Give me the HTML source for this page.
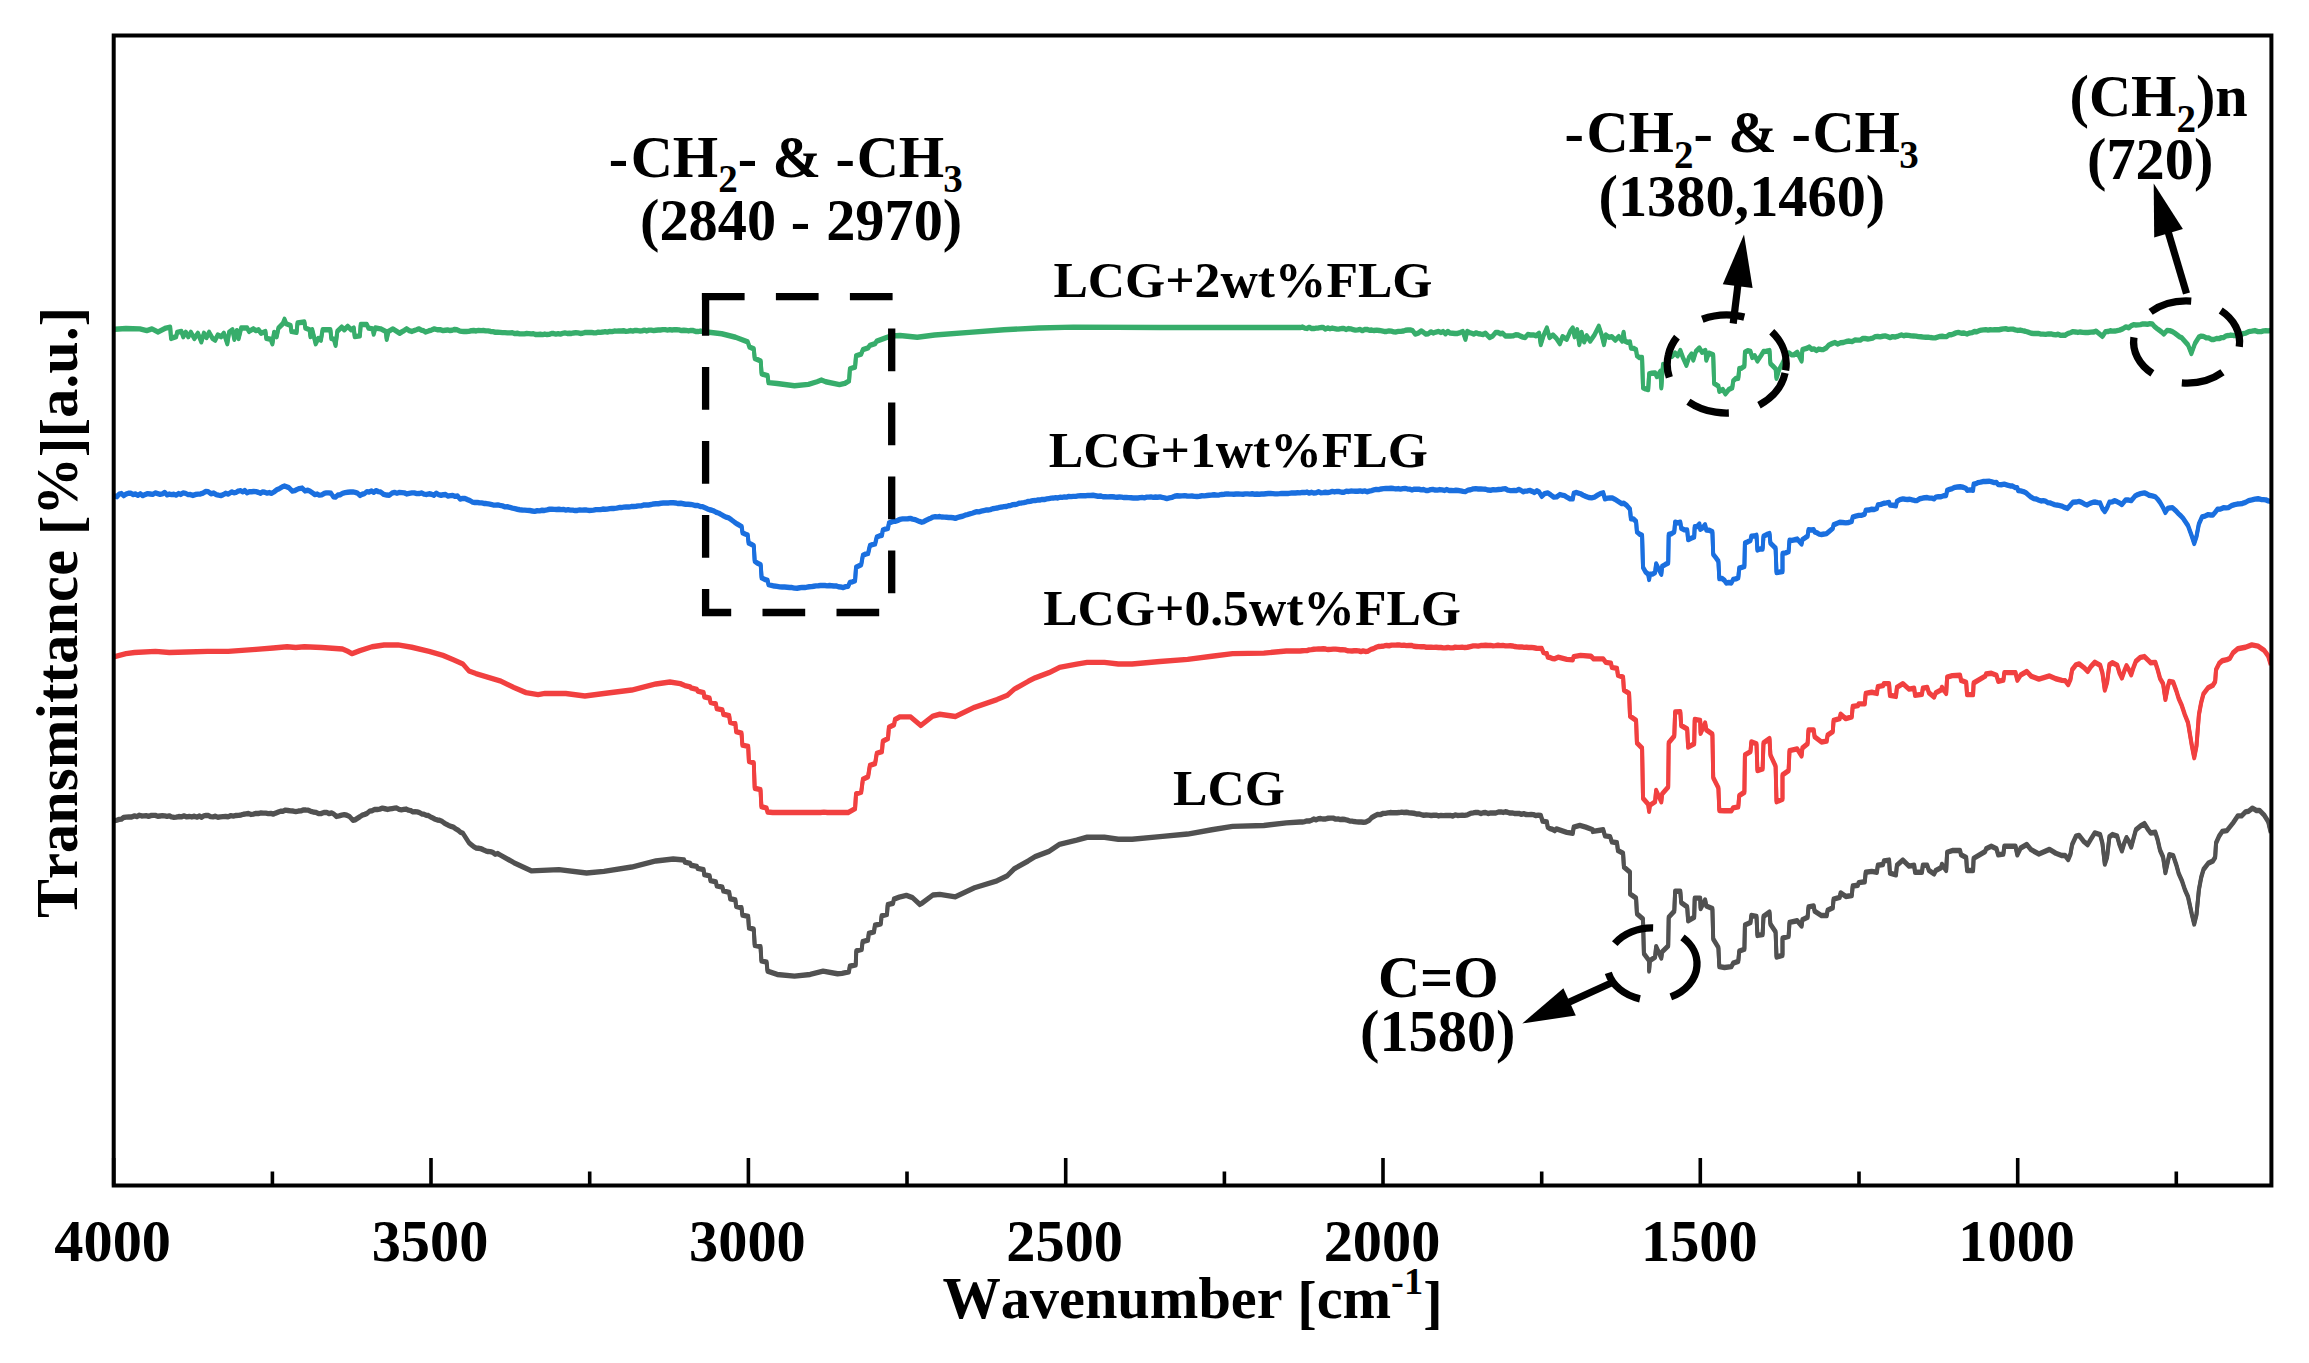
<!DOCTYPE html>
<html><head><meta charset="utf-8"><title>FTIR spectra</title>
<style>html,body{margin:0;padding:0;background:#fff}svg{display:block}</style></head>
<body>
<svg width="2309" height="1363" viewBox="0 0 2309 1363">
<rect width="2309" height="1363" fill="#fff"/>
<defs><clipPath id="pc"><rect x="113.7" y="35.5" width="2157.7" height="1150.0"/></clipPath></defs>
<g clip-path="url(#pc)" fill="none" stroke-width="3.9" stroke-linejoin="round" stroke-linecap="butt">
<path d="M114.7,819.8 L117.0,819.3 L119.2,818.7 L121.5,818.3 L123.7,816.7 L126.0,816.4 L128.9,816.2 L131.8,816.2 L134.6,815.2 L137.0,815.8 L139.3,814.5 L141.6,815.2 L143.9,815.1 L146.2,814.9 L148.5,815.6 L150.8,814.8 L153.1,814.6 L155.4,814.6 L157.7,815.5 L160.1,815.2 L162.4,814.9 L164.7,815.1 L167.0,815.6 L169.3,815.1 L171.6,816.2 L173.9,816.6 L176.2,816.4 L178.8,815.8 L181.4,816.1 L184.0,815.2 L186.6,816.1 L189.2,815.7 L191.8,816.2 L194.4,815.5 L197.0,816.4 L199.3,815.3 L201.5,816.5 L203.8,815.1 L206.0,814.7 L208.3,814.8 L210.7,815.9 L213.0,816.1 L215.4,815.5 L217.8,816.5 L220.4,816.1 L223.0,815.9 L225.6,815.8 L228.2,816.0 L230.8,814.9 L233.4,815.4 L236.0,814.7 L238.6,814.6 L241.1,814.2 L243.5,813.5 L246.0,813.1 L248.5,812.7 L251.0,813.7 L253.4,813.3 L255.9,812.6 L258.4,812.8 L260.9,812.2 L263.3,812.4 L265.8,812.4 L268.3,812.9 L270.8,812.6 L273.2,813.4 L275.7,812.3 L278.1,811.4 L280.5,810.5 L282.9,810.5 L285.4,809.4 L288.0,809.7 L290.6,810.1 L293.2,810.3 L295.8,810.8 L298.4,810.3 L301.0,810.1 L303.6,809.1 L305.9,809.3 L308.3,809.4 L310.7,810.6 L313.1,811.2 L315.7,811.6 L318.3,812.8 L320.9,812.9 L323.9,811.7 L326.9,811.7 L329.2,812.9 L331.6,812.1 L333.9,813.4 L336.5,815.7 L339.1,815.2 L341.7,814.4 L344.3,813.9 L346.9,814.5 L349.5,815.7 L352.9,819.5 L355.2,819.0 L357.5,817.5 L359.9,816.0 L362.3,814.3 L364.7,813.6 L367.1,812.6 L369.6,810.4 L372.0,810.0 L374.6,808.7 L377.2,808.8 L379.8,808.4 L382.4,807.4 L385.0,808.0 L387.6,808.7 L389.9,808.2 L392.2,807.8 L394.5,807.4 L396.8,807.3 L399.1,808.7 L401.4,809.1 L403.7,808.7 L406.0,808.3 L408.4,809.4 L410.6,809.8 L412.8,811.1 L415.0,810.9 L417.3,811.1 L419.5,811.8 L421.7,813.2 L423.9,813.4 L426.2,814.5 L428.4,814.8 L430.6,816.2 L432.9,817.3 L435.1,818.5 L437.3,819.2 L439.5,819.5 L441.9,820.5 L444.2,822.3 L446.5,823.6 L448.8,824.7 L451.1,825.7 L453.4,826.4 L455.8,828.1 L458.2,829.5 L460.5,831.5 L462.9,832.5 L469.0,842.0 L471.3,843.9 L473.6,845.8 L475.9,847.2 L478.3,847.5 L480.7,847.9 L483.1,848.9 L485.6,850.1 L488.0,850.8 L490.4,850.9 L492.8,851.6 L495.2,853.5 L497.6,852.8 L500.0,854.1 L513.9,861.9 L531.2,870.1 L558.9,868.9 L586.6,872.3 L603.9,870.6 L631.7,866.3 L655.9,860.2 L673.2,858.3 L684.0,859.2 L684.8,861.4 L690.2,862.6 L690.9,864.5 L696.8,865.7 L697.7,867.6 L703.6,868.9 L704.2,873.9 L709.6,875.1 L710.5,879.9 L715.9,881.2 L716.7,885.1 L722.4,886.4 L723.3,890.2 L729.2,891.6 L730.1,898.0 L735.4,899.2 L736.1,905.6 L741.5,907.0 L742.4,914.4 L748.2,915.6 L748.9,927.2 L753.8,928.5 L754.7,944.7 L760.5,945.9 L761.4,960.2 L766.6,961.4 L767.5,970.4 L777.2,973.7 L794.5,975.4 L810.1,973.7 L823.1,970.4 L837.5,973.0 L842.0,972.6 L848.9,971.2 L849.8,965.5 L855.7,964.1 L856.3,950.1 L861.7,948.7 L862.6,940.9 L868.0,939.4 L868.8,932.6 L874.0,931.2 L874.9,924.5 L880.8,923.1 L881.6,915.1 L887.0,913.7 L887.7,903.9 L893.1,902.5 L893.9,898.3 L899.3,896.4 L906.4,894.7 L912.5,896.9 L919.9,903.7 L921.7,902.6 L932.9,894.3 L939.8,893.6 L955.4,896.1 L974.5,887.0 L997.0,880.1 L1007.4,874.9 L1014.3,868.0 L1028.2,860.2 L1035.1,855.9 L1049.0,850.7 L1059.4,843.7 L1076.7,839.4 L1087.1,836.5 L1104.4,836.5 L1118.3,838.5 L1132.1,838.5 L1159.9,835.9 L1187.6,833.3 L1211.8,829.0 L1232.6,825.6 L1263.8,824.7 L1286.3,822.1 L1300.0,821.2 L1302.3,821.3 L1304.6,820.8 L1306.9,820.2 L1309.2,820.3 L1311.5,819.5 L1313.9,818.3 L1316.2,819.1 L1318.5,818.0 L1320.8,817.8 L1323.3,818.3 L1325.7,818.2 L1328.2,817.5 L1330.7,817.4 L1333.2,817.4 L1335.6,818.4 L1338.1,818.1 L1340.4,818.8 L1342.7,818.5 L1345.0,818.8 L1347.4,819.4 L1349.7,820.3 L1352.0,820.4 L1354.3,820.8 L1356.6,821.1 L1358.9,821.3 L1361.2,821.2 L1363.5,821.5 L1365.8,821.2 L1369.3,819.5 L1371.9,816.7 L1374.5,815.2 L1377.4,813.7 L1380.3,813.9 L1383.2,812.6 L1385.5,812.6 L1387.8,812.2 L1390.1,811.8 L1392.4,812.0 L1394.7,811.9 L1397.0,812.0 L1399.3,811.8 L1401.6,811.4 L1403.9,811.7 L1406.4,811.5 L1408.9,812.0 L1411.4,812.2 L1413.8,812.5 L1416.3,813.2 L1418.8,813.2 L1421.3,813.9 L1423.7,814.5 L1426.2,814.3 L1428.7,814.4 L1431.2,814.8 L1433.6,814.5 L1436.1,814.4 L1438.6,815.2 L1441.0,814.6 L1443.3,814.9 L1445.7,814.8 L1448.0,814.7 L1450.4,814.7 L1452.8,815.3 L1455.1,814.2 L1457.5,814.7 L1459.8,814.6 L1462.2,814.4 L1464.6,814.6 L1467.5,814.1 L1470.3,812.7 L1473.2,812.2 L1475.7,811.7 L1478.2,811.8 L1480.7,812.8 L1483.1,812.0 L1485.6,811.8 L1488.1,812.8 L1490.6,812.2 L1493.2,812.1 L1495.8,812.2 L1498.4,811.2 L1501.0,811.2 L1503.2,811.7 L1505.4,811.0 L1507.6,811.5 L1509.9,812.3 L1512.1,812.2 L1514.3,812.7 L1516.5,812.6 L1519.0,812.7 L1521.4,813.6 L1523.8,812.9 L1526.2,813.8 L1528.7,813.9 L1531.1,813.7 L1533.5,813.9 L1535.9,814.8 L1538.4,814.4 L1540.8,814.6 L1542.5,820.4 L1546.9,821.2 L1547.7,826.4 L1550.0,827.9 L1552.3,828.5 L1554.7,829.9 L1556.4,828.1 L1566.8,831.6 L1572.8,832.5 L1573.7,826.4 L1579.8,824.7 L1585.8,826.4 L1592.8,829.0 L1592.8,830.7 L1603.2,829.0 L1604.9,835.1 L1610.1,835.9 L1611.8,841.1 L1617.0,842.0 L1617.9,849.8 L1623.1,852.4 L1623.9,866.3 L1630.0,871.5 L1630.0,893.1 L1636.1,897.4 L1636.9,913.0 L1643.0,918.2 L1643.9,952.9 L1649.1,959.8 L1649.1,970.2 L1649.9,959.8 L1655.1,956.3 L1656.1,945.9 L1661.3,957.2 L1662.1,951.1 L1668.2,945.1 L1668.7,916.5 L1674.3,910.4 L1675.1,890.5 L1680.3,890.5 L1681.2,901.8 L1687.2,906.1 L1688.1,920.0 L1694.2,916.5 L1694.7,897.4 L1700.2,897.4 L1700.6,907.8 L1705.1,899.2 L1706.3,905.2 L1712.4,907.8 L1713.2,938.2 L1718.4,946.8 L1719.3,965.9 L1724.5,966.7 L1731.4,965.9 L1733.2,962.4 L1738.3,960.7 L1739.2,950.3 L1744.4,948.5 L1744.9,924.3 L1750.5,921.7 L1751.3,914.8 L1756.5,915.6 L1757.4,934.7 L1762.6,933.8 L1763.5,915.6 L1769.5,911.3 L1770.4,923.4 L1775.6,931.2 L1776.5,956.3 L1782.5,954.6 L1782.5,937.3 L1788.6,935.6 L1789.5,921.7 L1797.2,920.0 L1801.6,925.2 L1802.4,919.1 L1807.6,916.5 L1808.5,906.1 L1813.7,905.2 L1814.6,910.4 L1821.5,914.8 L1826.7,914.8 L1827.6,909.6 L1832.8,907.0 L1833.6,898.3 L1839.7,896.6 L1840.6,892.2 L1845.8,895.7 L1851.8,894.8 L1852.7,885.3 L1857.9,884.5 L1858.7,881.9 L1864.8,881.0 L1865.7,871.5 L1871.7,870.6 L1876.9,871.5 L1877.8,864.5 L1883.0,863.7 L1883.9,860.2 L1889.1,859.3 L1889.9,872.3 L1896.0,874.1 L1896.9,864.5 L1902.9,859.3 L1909.0,865.4 L1914.2,864.5 L1915.0,871.5 L1922.0,871.5 L1922.8,864.5 L1927.2,864.5 L1928.9,869.7 L1934.1,873.2 L1935.8,869.7 L1941.0,867.1 L1941.9,863.7 L1946.2,869.7 L1947.1,851.5 L1952.3,849.8 L1960.1,849.8 L1961.0,854.1 L1966.2,856.7 L1967.0,869.7 L1973.1,869.7 L1973.6,857.6 L1985.2,850.7 L1986.1,848.1 L1991.3,845.5 L1996.5,848.1 L1998.2,854.1 L2003.4,853.3 L2004.3,845.5 L2015.5,845.5 L2017.3,854.1 L2020.7,847.2 L2026.8,843.7 L2031.1,848.9 L2038.9,853.3 L2049.5,848.6 L2055.8,852.5 L2062.0,854.8 L2065.1,854.8 L2068.2,858.7 L2070.5,853.2 L2072.1,843.9 L2076.0,835.4 L2079.1,834.6 L2083.8,840.8 L2087.7,843.9 L2090.8,838.5 L2094.7,832.2 L2100.1,833.8 L2102.4,842.4 L2104.8,863.4 L2107.1,856.4 L2109.4,836.1 L2112.5,833.8 L2117.2,835.4 L2119.5,843.9 L2121.9,850.1 L2124.2,842.4 L2126.5,836.9 L2128.9,840.8 L2131.2,846.2 L2133.5,837.7 L2135.9,829.1 L2140.5,825.2 L2144.4,822.9 L2148.3,829.1 L2150.7,832.2 L2155.3,831.5 L2157.7,839.2 L2160.0,849.4 L2163.1,856.4 L2165.4,871.9 L2167.8,861.0 L2169.3,854.0 L2173.2,854.8 L2176.3,864.1 L2178.7,872.7 L2181.8,879.7 L2184.9,889.0 L2188.0,896.0 L2191.9,913.9 L2194.2,923.2 L2196.5,913.9 L2198.9,889.0 L2201.2,876.6 L2203.5,868.8 L2208.2,862.6 L2212.9,860.2 L2215.2,856.4 L2216.0,842.4 L2219.1,835.4 L2222.2,830.7 L2226.9,829.9 L2233.1,822.1 L2237.8,815.1 L2241.6,815.1 L2245.5,811.2 L2248.6,810.5 L2252.5,807.4 L2256.4,809.7 L2259.5,809.7 L2264.2,814.4 L2268.1,820.6 L2270.7,831.5" stroke="#515151"/>
<path d="M114.7,821.3 L117.0,820.8 L119.2,820.2 L121.5,819.8 L123.7,818.2 L126.0,817.9 L128.9,817.7 L131.8,817.7 L134.6,816.7 L137.0,817.3 L139.3,816.0 L141.6,816.7 L143.9,816.6 L146.2,816.4 L148.5,817.1 L150.8,816.3 L153.1,816.1 L155.4,816.1 L157.7,817.0 L160.1,816.7 L162.4,816.4 L164.7,816.6 L167.0,817.1 L169.3,816.6 L171.6,817.7 L173.9,818.1 L176.2,817.9 L178.8,817.3 L181.4,817.6 L184.0,816.7 L186.6,817.6 L189.2,817.2 L191.8,817.7 L194.4,817.0 L197.0,817.9 L199.3,816.8 L201.5,818.0 L203.8,816.6 L206.0,816.2 L208.3,816.3 L210.7,817.4 L213.0,817.6 L215.4,817.0 L217.8,818.0 L220.4,817.6 L223.0,817.4 L225.6,817.3 L228.2,817.5 L230.8,816.4 L233.4,816.9 L236.0,816.2 L238.6,816.1 L241.1,815.7 L243.5,815.0 L246.0,814.6 L248.5,814.2 L251.0,815.2 L253.4,814.8 L255.9,814.1 L258.4,814.3 L260.9,813.7 L263.3,813.9 L265.8,813.9 L268.3,814.4 L270.8,814.1 L273.2,814.9 L275.7,813.8 L278.1,812.9 L280.5,812.0 L282.9,812.0 L285.4,810.9 L288.0,811.2 L290.6,811.6 L293.2,811.8 L295.8,812.3 L298.4,811.8 L301.0,811.6 L303.6,810.6 L305.9,810.8 L308.3,810.9 L310.7,812.1 L313.1,812.7 L315.7,813.1 L318.3,814.3 L320.9,814.4 L323.9,813.2 L326.9,813.2 L329.2,814.4 L331.6,813.6 L333.9,814.9 L336.5,817.2 L339.1,816.7 L341.7,815.9 L344.3,815.4 L346.9,816.0 L349.5,817.2 L352.9,821.0 L355.2,820.5 L357.5,819.0 L359.9,817.5 L362.3,815.8 L364.7,815.1 L367.1,814.1 L369.6,811.9 L372.0,811.5 L374.6,810.2 L377.2,810.3 L379.8,809.9 L382.4,808.9 L385.0,809.5 L387.6,810.2 L389.9,809.7 L392.2,809.3 L394.5,808.9 L396.8,808.8 L399.1,810.2 L401.4,810.6 L403.7,810.2 L406.0,809.8 L408.4,810.9 L410.6,811.3 L412.8,812.6 L415.0,812.4 L417.3,812.6 L419.5,813.3 L421.7,814.7 L423.9,814.9 L426.2,816.0 L428.4,816.3 L430.6,817.7 L432.9,818.8 L435.1,820.0 L437.3,820.7 L439.5,821.0 L441.9,822.0 L444.2,823.8 L446.5,825.1 L448.8,826.2 L451.1,827.2 L453.4,827.9 L455.8,829.6 L458.2,831.0 L460.5,833.0 L462.9,834.0 L469.0,843.5 L471.3,845.4 L473.6,847.3 L475.9,848.7 L478.3,849.0 L480.7,849.4 L483.1,850.4 L485.6,851.6 L488.0,852.3 L490.4,852.4 L492.8,853.1 L495.2,855.0 L497.6,854.3 L500.0,855.6 L513.9,863.4 L531.2,871.6 L558.9,870.4 L586.6,873.8 L603.9,872.1 L631.7,867.8 L655.9,861.7 L673.2,859.8 L684.0,860.7 L684.8,862.9 L690.2,864.1 L690.9,866.0 L696.8,867.2 L697.7,869.1 L703.6,870.4 L704.2,875.4 L709.6,876.6 L710.5,881.4 L715.9,882.7 L716.7,886.6 L722.4,887.9 L723.3,891.7 L729.2,893.1 L730.1,899.5 L735.4,900.7 L736.1,907.1 L741.5,908.5 L742.4,915.9 L748.2,917.1 L748.9,928.7 L753.8,930.0 L754.7,946.2 L760.5,947.4 L761.4,961.7 L766.6,962.9 L767.5,971.9 L777.2,975.2 L794.5,976.9 L810.1,975.2 L823.1,971.9 L837.5,974.5 L842.0,974.1 L848.9,972.7 L849.8,967.0 L855.7,965.6 L856.3,951.6 L861.7,950.2 L862.6,942.4 L868.0,940.9 L868.8,934.1 L874.0,932.7 L874.9,926.0 L880.8,924.6 L881.6,916.6 L887.0,915.2 L887.7,905.4 L893.1,904.0 L893.9,899.8 L899.3,897.9 L906.4,896.2 L912.5,898.4 L919.9,905.2 L921.7,904.1 L932.9,895.8 L939.8,895.1 L955.4,897.6 L974.5,888.5 L997.0,881.6 L1007.4,876.4 L1014.3,869.5 L1028.2,861.7 L1035.1,857.4 L1049.0,852.2 L1059.4,845.2 L1076.7,840.9 L1087.1,838.0 L1104.4,838.0 L1118.3,840.0 L1132.1,840.0 L1159.9,837.4 L1187.6,834.8 L1211.8,830.5 L1232.6,827.1 L1263.8,826.2 L1286.3,823.6 L1300.0,822.7 L1302.3,822.8 L1304.6,822.3 L1306.9,821.7 L1309.2,821.8 L1311.5,821.0 L1313.9,819.8 L1316.2,820.6 L1318.5,819.5 L1320.8,819.3 L1323.3,819.8 L1325.7,819.7 L1328.2,819.0 L1330.7,818.9 L1333.2,818.9 L1335.6,819.9 L1338.1,819.6 L1340.4,820.3 L1342.7,820.0 L1345.0,820.3 L1347.4,820.9 L1349.7,821.8 L1352.0,821.9 L1354.3,822.3 L1356.6,822.6 L1358.9,822.8 L1361.2,822.7 L1363.5,823.0 L1365.8,822.7 L1369.3,821.0 L1371.9,818.2 L1374.5,816.7 L1377.4,815.2 L1380.3,815.4 L1383.2,814.1 L1385.5,814.1 L1387.8,813.7 L1390.1,813.3 L1392.4,813.5 L1394.7,813.4 L1397.0,813.5 L1399.3,813.3 L1401.6,812.9 L1403.9,813.2 L1406.4,813.0 L1408.9,813.5 L1411.4,813.7 L1413.8,814.0 L1416.3,814.7 L1418.8,814.7 L1421.3,815.4 L1423.7,816.0 L1426.2,815.8 L1428.7,815.9 L1431.2,816.3 L1433.6,816.0 L1436.1,815.9 L1438.6,816.7 L1441.0,816.1 L1443.3,816.4 L1445.7,816.3 L1448.0,816.2 L1450.4,816.2 L1452.8,816.8 L1455.1,815.7 L1457.5,816.2 L1459.8,816.1 L1462.2,815.9 L1464.6,816.1 L1467.5,815.6 L1470.3,814.2 L1473.2,813.7 L1475.7,813.2 L1478.2,813.3 L1480.7,814.3 L1483.1,813.5 L1485.6,813.3 L1488.1,814.3 L1490.6,813.7 L1493.2,813.6 L1495.8,813.7 L1498.4,812.7 L1501.0,812.7 L1503.2,813.2 L1505.4,812.5 L1507.6,813.0 L1509.9,813.8 L1512.1,813.7 L1514.3,814.2 L1516.5,814.1 L1519.0,814.2 L1521.4,815.1 L1523.8,814.4 L1526.2,815.3 L1528.7,815.4 L1531.1,815.2 L1533.5,815.4 L1535.9,816.3 L1538.4,815.9 L1540.8,816.1 L1542.5,821.9 L1546.9,822.7 L1547.7,827.9 L1550.0,829.4 L1552.3,830.0 L1554.7,831.4 L1556.4,829.6 L1566.8,833.1 L1572.8,834.0 L1573.7,827.9 L1579.8,826.2 L1585.8,827.9 L1592.8,830.5 L1592.8,832.2 L1603.2,830.5 L1604.9,836.6 L1610.1,837.4 L1611.8,842.6 L1617.0,843.5 L1617.9,851.3 L1623.1,853.9 L1623.9,867.8 L1630.0,873.0 L1630.0,894.6 L1636.1,898.9 L1636.9,914.5 L1643.0,919.7 L1643.9,954.4 L1649.1,961.3 L1649.1,971.7 L1649.9,961.3 L1655.1,957.8 L1656.1,947.4 L1661.3,958.7 L1662.1,952.6 L1668.2,946.6 L1668.7,918.0 L1674.3,911.9 L1675.1,892.0 L1680.3,892.0 L1681.2,903.3 L1687.2,907.6 L1688.1,921.5 L1694.2,918.0 L1694.7,898.9 L1700.2,898.9 L1700.6,909.3 L1705.1,900.7 L1706.3,906.7 L1712.4,909.3 L1713.2,939.7 L1718.4,948.3 L1719.3,967.4 L1724.5,968.2 L1731.4,967.4 L1733.2,963.9 L1738.3,962.2 L1739.2,951.8 L1744.4,950.0 L1744.9,925.8 L1750.5,923.2 L1751.3,916.3 L1756.5,917.1 L1757.4,936.2 L1762.6,935.3 L1763.5,917.1 L1769.5,912.8 L1770.4,924.9 L1775.6,932.7 L1776.5,957.8 L1782.5,956.1 L1782.5,938.8 L1788.6,937.1 L1789.5,923.2 L1797.2,921.5 L1801.6,926.7 L1802.4,920.6 L1807.6,918.0 L1808.5,907.6 L1813.7,906.7 L1814.6,911.9 L1821.5,916.3 L1826.7,916.3 L1827.6,911.1 L1832.8,908.5 L1833.6,899.8 L1839.7,898.1 L1840.6,893.7 L1845.8,897.2 L1851.8,896.3 L1852.7,886.8 L1857.9,886.0 L1858.7,883.4 L1864.8,882.5 L1865.7,873.0 L1871.7,872.1 L1876.9,873.0 L1877.8,866.0 L1883.0,865.2 L1883.9,861.7 L1889.1,860.8 L1889.9,873.8 L1896.0,875.6 L1896.9,866.0 L1902.9,860.8 L1909.0,866.9 L1914.2,866.0 L1915.0,873.0 L1922.0,873.0 L1922.8,866.0 L1927.2,866.0 L1928.9,871.2 L1934.1,874.7 L1935.8,871.2 L1941.0,868.6 L1941.9,865.2 L1946.2,871.2 L1947.1,853.0 L1952.3,851.3 L1960.1,851.3 L1961.0,855.6 L1966.2,858.2 L1967.0,871.2 L1973.1,871.2 L1973.6,859.1 L1985.2,852.2 L1986.1,849.6 L1991.3,847.0 L1996.5,849.6 L1998.2,855.6 L2003.4,854.8 L2004.3,847.0 L2015.5,847.0 L2017.3,855.6 L2020.7,848.7 L2026.8,845.2 L2031.1,850.4 L2038.9,854.8 L2049.5,850.1 L2055.8,854.0 L2062.0,856.3 L2065.1,856.3 L2068.2,860.2 L2070.5,854.7 L2072.1,845.4 L2076.0,836.9 L2079.1,836.1 L2083.8,842.3 L2087.7,845.4 L2090.8,840.0 L2094.7,833.7 L2100.1,835.3 L2102.4,843.9 L2104.8,864.9 L2107.1,857.9 L2109.4,837.6 L2112.5,835.3 L2117.2,836.9 L2119.5,845.4 L2121.9,851.6 L2124.2,843.9 L2126.5,838.4 L2128.9,842.3 L2131.2,847.7 L2133.5,839.2 L2135.9,830.6 L2140.5,826.7 L2144.4,824.4 L2148.3,830.6 L2150.7,833.7 L2155.3,833.0 L2157.7,840.7 L2160.0,850.9 L2163.1,857.9 L2165.4,873.4 L2167.8,862.5 L2169.3,855.5 L2173.2,856.3 L2176.3,865.6 L2178.7,874.2 L2181.8,881.2 L2184.9,890.5 L2188.0,897.5 L2191.9,915.4 L2194.2,924.7 L2196.5,915.4 L2198.9,890.5 L2201.2,878.1 L2203.5,870.3 L2208.2,864.1 L2212.9,861.7 L2215.2,857.9 L2216.0,843.9 L2219.1,836.9 L2222.2,832.2 L2226.9,831.4 L2233.1,823.6 L2237.8,816.6 L2241.6,816.6 L2245.5,812.7 L2248.6,812.0 L2252.5,808.9 L2256.4,811.2 L2259.5,811.2 L2264.2,815.9 L2268.1,822.1 L2270.7,833.0" stroke="#515151"/>
<path d="M114.7,655.8 L126.0,652.9 L134.6,651.7 L155.4,650.6 L169.3,651.7 L186.6,651.2 L207.4,650.6 L228.2,650.6 L255.9,648.6 L273.2,647.2 L287.1,646.0 L295.8,646.8 L304.4,646.0 L321.7,646.8 L342.5,648.2 L347.7,650.6 L352.1,652.9 L359.9,649.9 L372.0,646.0 L384.1,644.2 L398.0,644.2 L411.8,646.5 L429.1,650.6 L443.0,654.6 L453.4,659.0 L462.9,663.3 L469.0,670.2 L475.9,672.8 L500.0,680.1 L513.9,686.7 L526.0,691.9 L538.1,693.9 L545.0,692.7 L565.8,692.7 L584.9,695.3 L603.9,692.7 L631.7,689.3 L655.9,683.2 L669.9,681.3 L680.3,682.9 L684.8,684.8 L690.2,686.2 L690.9,687.2 L696.8,688.7 L697.7,690.3 L703.6,691.9 L704.2,696.0 L709.6,697.4 L710.5,701.6 L715.9,703.1 L716.7,707.8 L722.4,709.2 L723.3,713.5 L729.2,714.9 L730.1,721.7 L735.4,723.0 L736.1,730.8 L741.5,732.4 L742.4,744.4 L748.2,745.7 L748.9,760.6 L753.8,762.2 L754.7,787.5 L760.5,788.9 L761.4,805.9 L766.6,807.4 L767.5,811.2 L772.7,811.7 L820.5,811.7 L823.9,811.4 L827.4,811.7 L848.2,811.7 L855.1,807.9 L856.0,793.2 L861.2,791.5 L862.9,778.5 L868.1,775.9 L869.9,764.6 L875.1,762.9 L876.8,752.5 L882.0,750.8 L882.8,740.4 L888.0,737.8 L888.9,726.5 L894.1,723.9 L895.0,718.7 L900.0,716.1 L910.4,716.1 L920.8,724.8 L932.9,715.3 L939.8,713.5 L955.4,715.8 L974.5,706.6 L997.0,698.8 L1007.4,694.5 L1014.3,688.4 L1028.2,680.6 L1035.1,677.1 L1049.0,671.9 L1059.4,666.7 L1076.7,663.3 L1087.1,661.6 L1104.4,661.6 L1118.3,663.3 L1132.1,663.3 L1159.9,660.7 L1187.6,658.6 L1211.8,655.5 L1232.6,652.9 L1263.8,652.4 L1286.3,650.3 L1300.0,650.3 L1302.3,650.0 L1304.6,649.9 L1306.9,649.9 L1309.2,649.1 L1311.5,648.9 L1313.9,648.5 L1316.2,648.4 L1318.5,648.1 L1320.8,648.2 L1323.3,648.0 L1325.7,648.3 L1328.2,648.8 L1330.7,648.6 L1333.2,648.4 L1335.6,648.4 L1338.1,648.6 L1340.4,649.0 L1342.7,649.0 L1345.0,649.1 L1347.4,650.0 L1349.7,650.1 L1352.0,650.3 L1354.2,650.0 L1356.4,650.0 L1358.7,650.1 L1360.9,650.9 L1363.1,650.2 L1365.3,650.7 L1367.6,650.6 L1371.0,648.6 L1373.6,647.9 L1376.2,646.5 L1378.8,645.7 L1381.4,645.5 L1384.0,645.2 L1386.6,644.7 L1389.1,645.0 L1391.6,644.4 L1394.0,644.4 L1396.5,644.3 L1399.0,644.1 L1401.5,644.6 L1403.9,644.4 L1406.4,644.9 L1408.9,644.8 L1411.4,644.7 L1413.8,645.5 L1416.3,645.7 L1418.8,645.9 L1421.3,646.0 L1423.7,645.9 L1426.2,646.5 L1428.7,646.4 L1431.2,646.5 L1433.6,646.6 L1436.1,646.5 L1438.6,646.8 L1441.0,646.8 L1443.3,647.1 L1445.7,647.0 L1448.0,646.7 L1450.4,647.1 L1452.8,647.1 L1455.1,646.5 L1457.5,646.6 L1459.8,646.6 L1462.2,646.4 L1464.6,646.8 L1467.5,646.5 L1470.3,645.8 L1473.2,645.1 L1475.7,645.1 L1478.2,645.4 L1480.7,644.8 L1483.1,644.7 L1485.6,644.5 L1488.1,644.7 L1490.6,644.7 L1493.0,645.1 L1495.5,644.9 L1498.0,644.5 L1500.5,644.9 L1502.9,644.6 L1505.4,645.1 L1507.9,645.1 L1510.2,645.0 L1512.5,645.2 L1514.8,645.8 L1517.1,646.1 L1519.4,646.2 L1521.7,646.1 L1524.1,646.6 L1526.4,646.5 L1528.7,646.8 L1531.3,646.6 L1533.9,647.0 L1536.5,647.5 L1539.1,647.6 L1541.7,647.7 L1543.4,651.7 L1546.9,652.9 L1547.7,656.4 L1550.0,656.7 L1552.3,657.8 L1554.7,658.1 L1558.1,656.4 L1566.8,658.6 L1572.8,659.0 L1573.7,655.8 L1580.6,654.6 L1591.0,655.5 L1593.6,658.1 L1603.2,658.1 L1605.8,661.6 L1611.0,662.4 L1611.8,666.7 L1617.0,667.6 L1617.9,674.5 L1623.1,676.3 L1623.9,689.3 L1629.1,692.7 L1630.0,715.3 L1636.1,719.6 L1636.9,742.1 L1642.1,747.3 L1643.0,797.5 L1648.2,803.6 L1649.1,810.5 L1649.9,804.5 L1655.1,801.0 L1656.1,789.7 L1661.3,801.0 L1662.1,793.2 L1668.2,786.3 L1668.7,742.1 L1674.3,735.2 L1675.1,711.3 L1680.3,710.9 L1681.2,724.8 L1687.2,728.2 L1688.1,746.4 L1694.2,743.0 L1694.7,718.7 L1700.2,719.6 L1700.6,732.6 L1705.1,722.2 L1706.3,729.1 L1712.4,733.4 L1713.2,776.8 L1718.4,787.1 L1719.3,809.7 L1724.5,810.0 L1731.4,810.0 L1733.2,807.1 L1738.3,806.2 L1739.2,794.9 L1744.4,791.5 L1744.9,754.2 L1750.5,750.8 L1751.3,741.2 L1756.5,743.0 L1757.4,769.8 L1762.6,768.1 L1763.5,742.1 L1769.5,737.8 L1770.4,754.2 L1775.6,765.5 L1776.5,801.0 L1782.5,798.4 L1782.5,774.2 L1788.6,769.8 L1789.5,749.9 L1797.2,748.2 L1801.6,755.1 L1802.4,747.3 L1807.6,743.0 L1808.5,729.1 L1813.7,729.1 L1814.6,736.0 L1821.5,741.2 L1826.7,740.4 L1827.6,734.3 L1832.8,730.8 L1833.6,719.6 L1839.7,717.9 L1840.6,713.5 L1845.8,717.9 L1851.8,716.1 L1852.7,705.7 L1857.9,704.9 L1858.7,703.1 L1864.8,703.1 L1865.7,692.7 L1871.7,691.5 L1876.9,692.7 L1877.8,685.8 L1883.0,684.9 L1883.9,682.9 L1889.1,682.9 L1889.9,694.5 L1896.0,695.7 L1896.9,686.7 L1902.9,682.9 L1909.0,688.4 L1914.2,687.5 L1915.0,694.5 L1922.0,693.6 L1922.8,687.5 L1927.2,686.7 L1928.9,691.9 L1934.1,696.2 L1935.8,691.9 L1941.0,689.3 L1941.9,686.7 L1946.2,692.7 L1947.1,676.3 L1952.3,674.9 L1960.1,674.5 L1961.0,679.7 L1966.2,681.5 L1967.0,693.9 L1973.1,693.9 L1973.6,682.3 L1985.2,675.4 L1986.1,673.2 L1991.3,672.5 L1996.5,674.5 L1998.2,680.6 L2003.4,679.4 L2004.3,671.9 L2015.5,671.9 L2017.3,679.4 L2020.7,674.2 L2026.8,670.7 L2031.1,675.4 L2038.9,678.4 L2049.5,675.2 L2055.8,678.0 L2062.0,679.6 L2065.1,679.9 L2068.2,683.8 L2070.5,678.4 L2072.1,669.0 L2076.0,664.0 L2079.1,663.1 L2083.8,666.7 L2087.7,670.6 L2090.8,665.9 L2094.7,661.6 L2100.1,664.4 L2102.4,672.1 L2104.8,689.2 L2107.1,681.5 L2109.4,664.0 L2112.5,662.0 L2117.2,664.4 L2119.5,672.1 L2121.9,677.1 L2124.2,670.6 L2126.5,665.1 L2128.9,669.0 L2131.2,674.0 L2133.5,666.7 L2135.9,660.5 L2140.5,656.6 L2144.4,655.8 L2148.3,659.7 L2150.7,662.0 L2155.3,661.6 L2157.7,669.0 L2160.0,677.6 L2163.1,683.0 L2165.4,698.6 L2167.8,686.1 L2169.3,680.7 L2173.2,681.5 L2176.3,690.0 L2178.7,697.8 L2181.8,704.8 L2184.9,714.1 L2188.0,721.9 L2191.9,745.2 L2194.2,756.9 L2196.5,745.2 L2198.9,714.1 L2201.2,701.7 L2203.5,693.1 L2208.2,686.9 L2212.9,684.6 L2215.2,680.7 L2216.0,669.0 L2219.1,662.8 L2222.2,660.0 L2226.9,658.9 L2230.0,657.4 L2233.1,651.9 L2237.8,648.0 L2245.5,646.5 L2251.8,644.1 L2258.0,645.4 L2264.2,649.6 L2268.1,655.0 L2270.7,663.6" stroke="#F14040"/>
<path d="M114.7,657.3 L126.0,654.4 L134.6,653.2 L155.4,652.1 L169.3,653.2 L186.6,652.7 L207.4,652.1 L228.2,652.1 L255.9,650.1 L273.2,648.7 L287.1,647.5 L295.8,648.3 L304.4,647.5 L321.7,648.3 L342.5,649.7 L347.7,652.1 L352.1,654.4 L359.9,651.4 L372.0,647.5 L384.1,645.7 L398.0,645.7 L411.8,648.0 L429.1,652.1 L443.0,656.1 L453.4,660.5 L462.9,664.8 L469.0,671.7 L475.9,674.3 L500.0,681.6 L513.9,688.2 L526.0,693.4 L538.1,695.4 L545.0,694.2 L565.8,694.2 L584.9,696.8 L603.9,694.2 L631.7,690.8 L655.9,684.7 L669.9,682.8 L680.3,684.4 L684.8,686.3 L690.2,687.7 L690.9,688.7 L696.8,690.2 L697.7,691.8 L703.6,693.4 L704.2,697.5 L709.6,698.9 L710.5,703.1 L715.9,704.6 L716.7,709.3 L722.4,710.7 L723.3,715.0 L729.2,716.4 L730.1,723.2 L735.4,724.5 L736.1,732.3 L741.5,733.9 L742.4,745.9 L748.2,747.2 L748.9,762.1 L753.8,763.7 L754.7,789.0 L760.5,790.4 L761.4,807.4 L766.6,808.9 L767.5,812.7 L772.7,813.2 L820.5,813.2 L823.9,812.9 L827.4,813.2 L848.2,813.2 L855.1,809.4 L856.0,794.7 L861.2,793.0 L862.9,780.0 L868.1,777.4 L869.9,766.1 L875.1,764.4 L876.8,754.0 L882.0,752.3 L882.8,741.9 L888.0,739.3 L888.9,728.0 L894.1,725.4 L895.0,720.2 L900.0,717.6 L910.4,717.6 L920.8,726.3 L932.9,716.8 L939.8,715.0 L955.4,717.3 L974.5,708.1 L997.0,700.3 L1007.4,696.0 L1014.3,689.9 L1028.2,682.1 L1035.1,678.6 L1049.0,673.4 L1059.4,668.2 L1076.7,664.8 L1087.1,663.1 L1104.4,663.1 L1118.3,664.8 L1132.1,664.8 L1159.9,662.2 L1187.6,660.1 L1211.8,657.0 L1232.6,654.4 L1263.8,653.9 L1286.3,651.8 L1300.0,651.8 L1302.3,651.5 L1304.6,651.4 L1306.9,651.4 L1309.2,650.6 L1311.5,650.4 L1313.9,650.0 L1316.2,649.9 L1318.5,649.6 L1320.8,649.7 L1323.3,649.5 L1325.7,649.8 L1328.2,650.3 L1330.7,650.1 L1333.2,649.9 L1335.6,649.9 L1338.1,650.1 L1340.4,650.5 L1342.7,650.5 L1345.0,650.6 L1347.4,651.5 L1349.7,651.6 L1352.0,651.8 L1354.2,651.5 L1356.4,651.5 L1358.7,651.6 L1360.9,652.4 L1363.1,651.7 L1365.3,652.2 L1367.6,652.1 L1371.0,650.1 L1373.6,649.4 L1376.2,648.0 L1378.8,647.2 L1381.4,647.0 L1384.0,646.7 L1386.6,646.2 L1389.1,646.5 L1391.6,645.9 L1394.0,645.9 L1396.5,645.8 L1399.0,645.6 L1401.5,646.1 L1403.9,645.9 L1406.4,646.4 L1408.9,646.3 L1411.4,646.2 L1413.8,647.0 L1416.3,647.2 L1418.8,647.4 L1421.3,647.5 L1423.7,647.4 L1426.2,648.0 L1428.7,647.9 L1431.2,648.0 L1433.6,648.1 L1436.1,648.0 L1438.6,648.3 L1441.0,648.3 L1443.3,648.6 L1445.7,648.5 L1448.0,648.2 L1450.4,648.6 L1452.8,648.6 L1455.1,648.0 L1457.5,648.1 L1459.8,648.1 L1462.2,647.9 L1464.6,648.3 L1467.5,648.0 L1470.3,647.3 L1473.2,646.6 L1475.7,646.6 L1478.2,646.9 L1480.7,646.3 L1483.1,646.2 L1485.6,646.0 L1488.1,646.2 L1490.6,646.2 L1493.0,646.6 L1495.5,646.4 L1498.0,646.0 L1500.5,646.4 L1502.9,646.1 L1505.4,646.6 L1507.9,646.6 L1510.2,646.5 L1512.5,646.7 L1514.8,647.3 L1517.1,647.6 L1519.4,647.7 L1521.7,647.6 L1524.1,648.1 L1526.4,648.0 L1528.7,648.3 L1531.3,648.1 L1533.9,648.5 L1536.5,649.0 L1539.1,649.1 L1541.7,649.2 L1543.4,653.2 L1546.9,654.4 L1547.7,657.9 L1550.0,658.2 L1552.3,659.3 L1554.7,659.6 L1558.1,657.9 L1566.8,660.1 L1572.8,660.5 L1573.7,657.3 L1580.6,656.1 L1591.0,657.0 L1593.6,659.6 L1603.2,659.6 L1605.8,663.1 L1611.0,663.9 L1611.8,668.2 L1617.0,669.1 L1617.9,676.0 L1623.1,677.8 L1623.9,690.8 L1629.1,694.2 L1630.0,716.8 L1636.1,721.1 L1636.9,743.6 L1642.1,748.8 L1643.0,799.0 L1648.2,805.1 L1649.1,812.0 L1649.9,806.0 L1655.1,802.5 L1656.1,791.2 L1661.3,802.5 L1662.1,794.7 L1668.2,787.8 L1668.7,743.6 L1674.3,736.7 L1675.1,712.8 L1680.3,712.4 L1681.2,726.3 L1687.2,729.7 L1688.1,747.9 L1694.2,744.5 L1694.7,720.2 L1700.2,721.1 L1700.6,734.1 L1705.1,723.7 L1706.3,730.6 L1712.4,734.9 L1713.2,778.3 L1718.4,788.6 L1719.3,811.2 L1724.5,811.5 L1731.4,811.5 L1733.2,808.6 L1738.3,807.7 L1739.2,796.4 L1744.4,793.0 L1744.9,755.7 L1750.5,752.3 L1751.3,742.7 L1756.5,744.5 L1757.4,771.3 L1762.6,769.6 L1763.5,743.6 L1769.5,739.3 L1770.4,755.7 L1775.6,767.0 L1776.5,802.5 L1782.5,799.9 L1782.5,775.7 L1788.6,771.3 L1789.5,751.4 L1797.2,749.7 L1801.6,756.6 L1802.4,748.8 L1807.6,744.5 L1808.5,730.6 L1813.7,730.6 L1814.6,737.5 L1821.5,742.7 L1826.7,741.9 L1827.6,735.8 L1832.8,732.3 L1833.6,721.1 L1839.7,719.4 L1840.6,715.0 L1845.8,719.4 L1851.8,717.6 L1852.7,707.2 L1857.9,706.4 L1858.7,704.6 L1864.8,704.6 L1865.7,694.2 L1871.7,693.0 L1876.9,694.2 L1877.8,687.3 L1883.0,686.4 L1883.9,684.4 L1889.1,684.4 L1889.9,696.0 L1896.0,697.2 L1896.9,688.2 L1902.9,684.4 L1909.0,689.9 L1914.2,689.0 L1915.0,696.0 L1922.0,695.1 L1922.8,689.0 L1927.2,688.2 L1928.9,693.4 L1934.1,697.7 L1935.8,693.4 L1941.0,690.8 L1941.9,688.2 L1946.2,694.2 L1947.1,677.8 L1952.3,676.4 L1960.1,676.0 L1961.0,681.2 L1966.2,683.0 L1967.0,695.4 L1973.1,695.4 L1973.6,683.8 L1985.2,676.9 L1986.1,674.7 L1991.3,674.0 L1996.5,676.0 L1998.2,682.1 L2003.4,680.9 L2004.3,673.4 L2015.5,673.4 L2017.3,680.9 L2020.7,675.7 L2026.8,672.2 L2031.1,676.9 L2038.9,679.9 L2049.5,676.7 L2055.8,679.5 L2062.0,681.1 L2065.1,681.4 L2068.2,685.3 L2070.5,679.9 L2072.1,670.5 L2076.0,665.5 L2079.1,664.6 L2083.8,668.2 L2087.7,672.1 L2090.8,667.4 L2094.7,663.1 L2100.1,665.9 L2102.4,673.6 L2104.8,690.7 L2107.1,683.0 L2109.4,665.5 L2112.5,663.5 L2117.2,665.9 L2119.5,673.6 L2121.9,678.6 L2124.2,672.1 L2126.5,666.6 L2128.9,670.5 L2131.2,675.5 L2133.5,668.2 L2135.9,662.0 L2140.5,658.1 L2144.4,657.3 L2148.3,661.2 L2150.7,663.5 L2155.3,663.1 L2157.7,670.5 L2160.0,679.1 L2163.1,684.5 L2165.4,700.1 L2167.8,687.6 L2169.3,682.2 L2173.2,683.0 L2176.3,691.5 L2178.7,699.3 L2181.8,706.3 L2184.9,715.6 L2188.0,723.4 L2191.9,746.7 L2194.2,758.4 L2196.5,746.7 L2198.9,715.6 L2201.2,703.2 L2203.5,694.6 L2208.2,688.4 L2212.9,686.1 L2215.2,682.2 L2216.0,670.5 L2219.1,664.3 L2222.2,661.5 L2226.9,660.4 L2230.0,658.9 L2233.1,653.4 L2237.8,649.5 L2245.5,648.0 L2251.8,645.6 L2258.0,646.9 L2264.2,651.1 L2268.1,656.5 L2270.7,665.1" stroke="#F14040"/>
<path d="M114.7,495.0 L117.0,495.9 L119.2,493.4 L121.5,492.8 L123.7,494.9 L126.0,493.3 L128.4,492.5 L130.7,492.4 L133.1,493.9 L135.5,493.2 L137.9,494.6 L140.3,493.0 L142.7,494.9 L145.0,493.8 L147.6,492.9 L150.2,493.2 L152.8,493.6 L155.4,492.1 L157.7,492.8 L160.1,493.6 L162.4,493.2 L164.7,491.7 L167.0,494.1 L169.3,493.3 L171.6,493.9 L173.9,493.5 L176.2,494.3 L178.5,492.8 L180.8,493.7 L183.2,492.1 L185.6,492.6 L188.0,493.9 L190.4,493.8 L192.9,494.7 L195.3,493.8 L197.9,493.4 L200.5,493.2 L203.1,492.3 L205.7,490.8 L208.3,490.9 L210.9,493.0 L213.5,492.3 L216.1,493.8 L218.5,494.4 L220.9,494.8 L223.3,493.9 L225.8,492.5 L228.2,493.3 L231.7,491.2 L233.9,492.0 L236.1,491.6 L238.3,490.3 L240.5,489.9 L242.7,491.1 L244.9,489.8 L247.1,492.1 L249.3,491.0 L251.5,491.0 L253.7,490.7 L255.9,490.9 L258.1,491.5 L260.4,492.5 L262.6,491.1 L264.8,491.5 L267.0,492.3 L269.3,491.8 L271.5,492.6 L274.1,491.1 L276.7,489.1 L279.3,487.9 L281.9,486.3 L284.5,485.2 L288.8,486.9 L292.3,490.4 L294.6,489.9 L296.9,488.7 L299.2,487.8 L302.1,487.3 L305.0,490.2 L307.9,489.5 L310.2,490.6 L312.5,492.2 L314.8,493.8 L317.1,493.3 L319.4,494.4 L321.7,494.1 L324.1,492.7 L326.4,492.1 L328.7,492.1 L331.0,492.5 L333.3,496.0 L335.6,496.4 L337.9,494.3 L340.2,494.0 L342.5,492.6 L345.1,491.9 L347.7,491.5 L350.3,491.2 L352.9,491.2 L355.2,491.6 L357.5,492.3 L359.9,494.7 L362.2,493.5 L364.5,492.9 L366.8,490.9 L369.1,491.3 L371.4,490.2 L373.7,491.6 L376.0,489.9 L378.3,490.9 L380.6,491.2 L383.7,493.6 L386.7,494.3 L389.3,494.5 L391.9,492.4 L394.5,491.6 L397.0,492.5 L399.4,491.7 L401.9,491.9 L404.4,492.1 L406.9,493.2 L409.3,492.6 L411.8,492.1 L414.3,492.1 L416.8,492.9 L419.2,492.8 L421.7,492.2 L424.2,493.4 L426.7,493.7 L429.1,493.0 L431.5,493.5 L433.9,494.6 L436.2,492.4 L438.6,493.9 L441.0,494.5 L443.3,494.0 L445.7,493.8 L448.0,495.3 L450.4,494.9 L452.8,494.7 L455.1,495.6 L457.6,495.2 L460.1,498.4 L462.6,497.6 L465.0,497.8 L467.5,498.9 L470.0,499.8 L472.5,501.3 L474.8,501.8 L477.0,501.6 L479.3,502.0 L481.6,502.1 L483.9,502.7 L486.2,502.8 L488.5,503.2 L490.8,503.7 L493.1,504.2 L495.4,504.4 L497.7,504.1 L500.0,504.7 L502.5,505.2 L504.9,506.1 L507.4,506.0 L509.9,506.7 L512.4,507.4 L514.8,507.9 L517.3,508.5 L519.8,509.0 L522.3,509.3 L524.7,509.4 L527.2,509.6 L529.7,509.8 L532.2,510.2 L534.6,510.6 L537.1,510.0 L539.6,510.1 L542.1,509.5 L544.5,509.7 L547.0,509.2 L549.5,508.5 L552.0,508.5 L554.3,508.6 L556.6,508.8 L558.9,508.5 L561.2,508.9 L563.5,508.7 L565.8,509.3 L568.1,508.9 L570.4,509.4 L572.8,509.4 L575.1,509.8 L577.4,509.7 L579.7,509.2 L582.0,509.4 L584.3,509.2 L586.6,509.3 L588.9,509.7 L591.2,509.6 L593.5,509.4 L595.9,508.9 L598.2,508.9 L600.5,508.9 L602.8,508.3 L605.1,508.5 L607.4,508.4 L609.7,507.9 L612.0,507.6 L614.3,507.7 L616.6,507.3 L619.0,506.8 L621.3,506.8 L623.7,506.4 L626.2,506.1 L628.7,506.3 L631.2,505.8 L633.6,505.7 L636.1,505.5 L638.6,505.1 L641.1,505.1 L643.5,504.3 L646.0,504.1 L648.5,504.2 L651.0,503.8 L653.4,503.2 L655.9,503.0 L658.4,503.0 L660.9,502.5 L663.3,502.3 L665.8,502.1 L668.3,502.2 L670.8,501.9 L673.2,502.0 L675.7,502.2 L678.2,502.8 L680.7,502.5 L683.1,503.0 L685.6,503.5 L688.1,503.5 L690.6,503.7 L693.0,504.2 L695.4,504.8 L697.8,504.7 L700.3,505.8 L702.7,505.9 L705.0,507.0 L707.3,508.1 L709.6,509.0 L711.9,509.5 L714.2,510.4 L716.5,511.7 L719.0,512.5 L721.4,513.9 L723.8,515.3 L726.2,516.4 L728.7,517.2 L731.6,519.2 L734.4,521.3 L737.3,523.3 L741.7,525.9 L742.5,531.9 L745.1,533.2 L747.7,534.2 L748.6,542.3 L751.2,543.5 L753.8,544.9 L754.7,560.5 L757.7,562.6 L760.7,564.0 L761.6,577.0 L764.6,578.6 L767.6,579.6 L768.5,583.9 L771.4,584.6 L774.3,585.3 L777.2,585.6 L779.7,586.1 L782.1,586.2 L784.6,586.3 L787.1,586.5 L789.6,586.7 L792.0,586.8 L794.5,587.4 L797.1,587.5 L799.7,587.0 L802.3,586.6 L804.9,586.8 L807.1,586.4 L809.3,586.0 L811.6,585.9 L813.8,585.5 L816.0,585.1 L818.3,585.0 L820.5,584.8 L822.7,584.8 L824.9,584.8 L827.2,585.1 L829.4,584.8 L831.6,585.0 L833.8,585.3 L836.1,585.1 L838.4,586.0 L840.7,586.2 L843.0,586.8 L845.6,585.9 L848.2,585.6 L849.9,581.6 L852.5,581.1 L855.1,579.9 L856.0,566.6 L858.6,565.3 L861.2,564.0 L862.9,554.5 L865.5,553.4 L868.1,552.7 L869.9,544.9 L872.5,543.8 L875.1,543.2 L876.8,536.3 L879.4,535.2 L882.0,534.5 L882.8,529.3 L885.4,528.3 L888.0,527.6 L888.9,522.4 L891.1,521.4 L893.3,520.6 L895.6,520.5 L897.8,519.6 L900.0,518.6 L902.6,518.1 L905.2,518.1 L907.8,518.0 L910.4,517.6 L912.6,518.4 L914.9,518.8 L917.2,519.8 L919.4,520.7 L921.7,521.5 L923.9,520.8 L926.2,519.5 L928.4,518.4 L930.7,517.5 L932.9,516.3 L935.2,515.9 L937.5,516.1 L939.8,515.8 L942.1,516.3 L944.3,516.4 L946.5,516.5 L948.8,516.7 L951.0,516.7 L953.2,517.0 L955.4,517.6 L957.8,516.6 L960.2,516.0 L962.6,515.5 L965.0,514.4 L967.3,513.9 L969.7,513.2 L972.1,512.5 L974.5,511.7 L976.8,510.9 L979.0,511.1 L981.3,510.4 L983.6,509.8 L985.8,509.3 L988.1,509.2 L990.3,508.9 L992.6,508.0 L994.9,507.6 L997.1,507.3 L999.4,506.6 L1001.7,506.3 L1003.9,505.9 L1006.1,505.8 L1008.4,505.0 L1010.6,504.8 L1012.8,503.9 L1015.0,503.8 L1017.2,503.3 L1019.4,502.4 L1021.6,502.2 L1023.8,501.8 L1026.0,501.3 L1028.2,500.7 L1030.5,500.5 L1032.8,499.9 L1035.1,499.8 L1037.4,499.3 L1039.7,499.3 L1042.1,498.7 L1044.4,498.8 L1046.7,498.2 L1049.0,497.8 L1051.2,497.4 L1053.4,497.3 L1055.6,496.9 L1057.8,497.2 L1060.0,496.5 L1062.2,496.6 L1064.4,496.2 L1066.6,496.4 L1068.8,495.7 L1071.0,495.9 L1073.2,495.6 L1075.7,495.6 L1078.2,495.1 L1080.7,494.9 L1083.1,495.0 L1085.6,495.0 L1088.1,494.6 L1090.6,494.7 L1093.0,494.5 L1095.5,495.0 L1098.0,495.5 L1100.5,495.2 L1102.9,496.0 L1105.4,495.9 L1107.9,496.1 L1110.2,495.9 L1112.5,496.0 L1114.8,496.3 L1117.1,496.5 L1119.4,496.3 L1121.7,496.4 L1124.1,496.8 L1126.4,496.7 L1128.7,496.9 L1131.0,497.0 L1133.3,497.3 L1135.6,497.3 L1137.8,497.2 L1140.0,496.9 L1142.2,496.7 L1144.4,497.1 L1146.6,496.4 L1148.8,496.4 L1151.0,496.2 L1153.2,496.6 L1155.4,496.3 L1157.6,496.5 L1159.9,496.1 L1162.2,496.7 L1164.5,497.1 L1166.8,497.8 L1169.4,497.1 L1172.0,496.6 L1174.6,495.5 L1177.2,495.0 L1179.7,495.3 L1182.1,495.1 L1184.6,494.9 L1187.1,495.2 L1189.6,495.4 L1192.0,495.2 L1194.5,495.6 L1197.0,495.7 L1199.4,495.5 L1201.9,495.0 L1204.4,495.1 L1206.9,494.8 L1209.3,494.5 L1211.8,494.3 L1214.3,494.0 L1216.8,494.4 L1219.2,494.2 L1221.7,493.7 L1224.2,493.5 L1226.7,493.1 L1229.1,493.3 L1231.5,493.4 L1233.8,493.5 L1236.1,493.2 L1238.4,493.2 L1240.7,493.4 L1243.0,493.5 L1245.3,493.1 L1247.6,493.1 L1249.9,493.4 L1252.2,493.0 L1254.6,493.5 L1256.9,493.2 L1259.2,493.5 L1261.5,493.3 L1263.8,493.3 L1266.0,493.0 L1268.3,492.8 L1270.6,492.8 L1272.8,492.9 L1275.1,493.1 L1277.3,493.1 L1279.6,492.9 L1281.8,492.6 L1284.1,492.8 L1286.3,492.6 L1288.6,492.7 L1290.9,492.3 L1293.2,492.1 L1295.4,492.2 L1297.7,492.0 L1300.0,492.1 L1302.3,491.6 L1304.6,491.8 L1306.9,491.3 L1309.2,492.4 L1311.5,491.5 L1313.9,492.3 L1316.2,492.0 L1318.5,490.9 L1320.8,492.1 L1323.1,491.9 L1325.4,491.5 L1327.7,491.9 L1330.0,491.3 L1332.3,490.6 L1334.6,491.2 L1337.0,490.7 L1339.3,490.8 L1341.6,491.5 L1343.9,491.5 L1346.2,490.4 L1348.5,490.7 L1350.8,490.3 L1353.1,490.4 L1355.4,490.5 L1357.7,490.5 L1360.1,490.1 L1362.4,490.7 L1364.7,490.1 L1367.0,491.0 L1369.3,490.4 L1371.6,489.8 L1373.9,489.1 L1376.2,488.6 L1378.7,488.9 L1381.2,488.2 L1383.6,487.9 L1386.1,487.6 L1388.6,487.7 L1391.1,487.5 L1393.5,487.8 L1395.9,488.2 L1398.2,487.8 L1400.5,488.4 L1402.8,487.9 L1405.1,487.7 L1407.4,488.2 L1409.7,488.4 L1412.0,489.3 L1414.3,488.4 L1416.6,488.5 L1419.0,488.5 L1421.3,489.1 L1423.6,488.8 L1425.9,489.8 L1428.2,489.8 L1430.5,488.9 L1432.8,488.6 L1435.1,489.3 L1437.4,489.4 L1439.7,488.8 L1442.1,489.2 L1444.4,489.7 L1446.7,488.7 L1449.0,489.7 L1451.3,489.7 L1453.6,489.9 L1455.9,489.5 L1458.3,489.8 L1460.7,490.1 L1463.1,490.6 L1465.4,490.9 L1468.0,489.4 L1470.6,489.0 L1473.2,488.1 L1475.7,487.9 L1478.2,488.2 L1480.7,488.1 L1483.1,488.4 L1485.6,488.5 L1488.1,489.3 L1490.6,489.5 L1493.2,488.9 L1495.8,489.1 L1498.4,488.8 L1501.0,488.6 L1503.2,488.1 L1505.4,488.0 L1507.6,489.3 L1509.8,489.7 L1512.0,489.9 L1514.2,489.6 L1516.4,489.9 L1518.6,488.6 L1520.8,489.5 L1523.0,491.0 L1525.2,490.4 L1527.5,490.2 L1529.8,489.6 L1532.1,490.6 L1534.4,491.8 L1536.8,490.0 L1539.1,491.2 L1541.7,495.6 L1544.7,492.8 L1547.7,492.1 L1550.8,494.2 L1553.8,496.4 L1556.8,496.1 L1559.9,493.8 L1562.2,494.4 L1564.5,494.9 L1566.8,496.4 L1569.8,498.0 L1572.8,498.1 L1573.7,492.6 L1576.0,491.7 L1578.3,492.3 L1580.6,493.0 L1583.2,494.5 L1585.8,495.6 L1588.7,496.7 L1591.6,497.1 L1594.5,496.4 L1597.4,494.5 L1600.3,492.9 L1603.2,492.1 L1604.9,498.1 L1607.5,497.4 L1610.1,497.3 L1612.4,497.2 L1614.7,498.4 L1617.0,499.9 L1619.3,501.4 L1621.6,502.9 L1623.9,502.5 L1627.0,504.9 L1630.0,508.5 L1630.9,518.1 L1633.5,518.3 L1636.1,520.7 L1636.9,531.1 L1639.5,533.4 L1642.1,534.5 L1643.0,566.6 L1645.6,571.3 L1648.2,573.5 L1649.1,578.7 L1649.9,573.5 L1652.5,573.4 L1655.1,571.8 L1656.1,563.1 L1661.3,573.5 L1662.1,565.7 L1665.2,563.8 L1668.2,562.2 L1668.7,533.7 L1671.5,533.0 L1674.3,531.1 L1675.1,521.5 L1677.7,522.2 L1680.3,521.5 L1681.2,527.6 L1684.2,529.1 L1687.2,529.3 L1688.1,538.9 L1691.1,537.5 L1694.2,536.3 L1694.7,525.9 L1697.0,525.9 L1699.4,523.3 L1700.2,528.5 L1702.7,527.0 L1705.1,524.1 L1706.3,529.3 L1709.3,529.5 L1712.4,531.1 L1713.2,553.6 L1715.8,556.9 L1718.4,560.5 L1719.3,577.8 L1721.9,577.6 L1724.5,579.6 L1726.2,582.2 L1728.8,581.8 L1731.4,582.2 L1733.2,578.7 L1735.8,578.2 L1738.3,577.0 L1739.2,567.4 L1741.8,566.6 L1744.4,565.7 L1744.9,542.3 L1747.7,541.1 L1750.5,539.7 L1751.3,535.4 L1753.9,535.3 L1756.5,534.5 L1757.4,549.3 L1760.0,548.3 L1762.6,548.4 L1763.5,535.4 L1766.5,533.9 L1769.5,532.8 L1770.4,542.3 L1773.0,544.9 L1775.6,547.5 L1776.5,571.8 L1779.5,571.3 L1782.5,570.9 L1782.5,552.7 L1785.6,552.1 L1788.6,551.0 L1789.5,539.4 L1792.1,539.6 L1794.7,539.0 L1797.2,538.3 L1801.6,543.2 L1802.4,538.9 L1805.0,537.2 L1807.6,535.4 L1808.5,529.0 L1811.1,529.2 L1813.7,529.0 L1814.6,531.1 L1816.9,532.0 L1819.2,533.4 L1821.5,533.7 L1824.1,533.3 L1826.7,532.8 L1829.7,530.3 L1832.8,527.6 L1833.6,524.1 L1836.7,522.7 L1839.7,521.5 L1842.7,521.7 L1845.8,522.1 L1848.8,521.7 L1851.8,520.7 L1852.7,516.3 L1855.7,515.3 L1858.7,514.6 L1861.8,514.5 L1864.8,513.4 L1865.7,509.4 L1868.7,509.3 L1871.7,508.5 L1874.3,508.7 L1876.9,507.7 L1877.8,504.2 L1880.8,503.6 L1883.9,502.5 L1886.5,502.1 L1889.1,501.6 L1889.9,504.2 L1893.0,504.5 L1896.0,505.1 L1896.9,500.7 L1899.9,498.9 L1902.9,498.1 L1905.2,498.5 L1907.5,498.7 L1909.9,498.5 L1912.2,499.2 L1914.5,499.7 L1916.8,499.9 L1919.8,498.0 L1922.8,497.3 L1927.2,496.8 L1929.5,497.4 L1931.8,497.4 L1934.1,498.1 L1935.8,496.4 L1938.4,495.9 L1941.0,496.0 L1943.6,495.0 L1946.2,494.7 L1947.1,489.5 L1949.7,488.6 L1952.3,487.8 L1954.9,486.6 L1957.5,486.2 L1960.1,486.0 L1963.1,486.5 L1966.2,487.8 L1967.0,489.5 L1970.1,489.1 L1973.1,489.5 L1973.6,483.4 L1975.9,482.9 L1978.2,481.8 L1980.6,481.4 L1982.9,480.8 L1985.2,480.8 L1989.5,480.5 L1991.9,481.2 L1994.2,481.9 L1996.5,481.7 L1998.2,483.9 L2001.2,484.0 L2004.3,483.4 L2007.3,484.3 L2010.3,485.2 L2012.6,485.3 L2014.9,486.7 L2017.3,486.9 L2018.1,489.8 L2020.7,490.1 L2023.3,490.8 L2025.9,492.1 L2028.5,494.3 L2031.1,496.4 L2033.7,497.9 L2036.3,498.3 L2038.9,499.5 L2041.1,500.2 L2043.3,499.9 L2045.5,500.4 L2047.8,501.8 L2050.0,502.2 L2052.2,503.0 L2054.4,503.8 L2056.7,504.3 L2058.9,504.6 L2061.7,505.3 L2064.6,506.7 L2067.4,507.7 L2070.2,504.6 L2072.9,501.5 L2076.0,501.3 L2079.1,500.7 L2081.7,501.6 L2084.3,503.2 L2086.9,504.3 L2090.0,502.6 L2093.1,501.5 L2095.4,501.3 L2097.8,501.9 L2100.1,502.2 L2102.4,507.7 L2104.8,510.8 L2107.1,506.9 L2109.4,501.5 L2112.2,501.1 L2114.9,499.9 L2117.2,501.1 L2119.5,502.2 L2121.9,503.8 L2125.8,499.1 L2128.5,499.3 L2131.2,499.9 L2135.1,495.2 L2137.8,493.8 L2140.5,492.9 L2144.4,492.1 L2146.8,493.1 L2149.1,494.5 L2152.2,495.1 L2155.3,496.0 L2157.7,498.5 L2160.0,501.5 L2163.1,506.9 L2165.4,511.6 L2167.8,507.7 L2170.1,507.1 L2172.4,506.9 L2175.5,509.7 L2178.7,513.1 L2181.0,515.2 L2183.3,517.8 L2188.0,524.8 L2191.9,535.7 L2194.2,542.7 L2196.5,535.7 L2198.9,523.2 L2202.0,516.2 L2205.1,515.3 L2208.2,513.9 L2210.5,514.2 L2212.9,514.2 L2215.2,511.5 L2217.5,508.5 L2220.6,508.2 L2223.8,506.9 L2226.1,507.1 L2228.4,506.9 L2231.5,504.9 L2234.6,503.8 L2237.2,503.3 L2239.8,503.1 L2242.4,502.7 L2245.5,501.6 L2248.6,499.9 L2251.8,499.2 L2254.9,498.4 L2258.0,498.0 L2261.1,498.7 L2263.4,498.9 L2265.8,499.1 L2268.2,500.1 L2270.7,500.7" stroke="#1A6FDF"/>
<path d="M114.7,496.5 L117.0,497.4 L119.2,494.9 L121.5,494.3 L123.7,496.4 L126.0,494.8 L128.4,494.0 L130.7,493.9 L133.1,495.4 L135.5,494.7 L137.9,496.1 L140.3,494.5 L142.7,496.4 L145.0,495.3 L147.6,494.4 L150.2,494.7 L152.8,495.1 L155.4,493.6 L157.7,494.3 L160.1,495.1 L162.4,494.7 L164.7,493.2 L167.0,495.6 L169.3,494.8 L171.6,495.4 L173.9,495.0 L176.2,495.8 L178.5,494.3 L180.8,495.2 L183.2,493.6 L185.6,494.1 L188.0,495.4 L190.4,495.3 L192.9,496.2 L195.3,495.3 L197.9,494.9 L200.5,494.7 L203.1,493.8 L205.7,492.3 L208.3,492.4 L210.9,494.5 L213.5,493.8 L216.1,495.3 L218.5,495.9 L220.9,496.3 L223.3,495.4 L225.8,494.0 L228.2,494.8 L231.7,492.7 L233.9,493.5 L236.1,493.1 L238.3,491.8 L240.5,491.4 L242.7,492.6 L244.9,491.3 L247.1,493.6 L249.3,492.5 L251.5,492.5 L253.7,492.2 L255.9,492.4 L258.1,493.0 L260.4,494.0 L262.6,492.6 L264.8,493.0 L267.0,493.8 L269.3,493.3 L271.5,494.1 L274.1,492.6 L276.7,490.6 L279.3,489.4 L281.9,487.8 L284.5,486.7 L288.8,488.4 L292.3,491.9 L294.6,491.4 L296.9,490.2 L299.2,489.3 L302.1,488.8 L305.0,491.7 L307.9,491.0 L310.2,492.1 L312.5,493.7 L314.8,495.3 L317.1,494.8 L319.4,495.9 L321.7,495.6 L324.1,494.2 L326.4,493.6 L328.7,493.6 L331.0,494.0 L333.3,497.5 L335.6,497.9 L337.9,495.8 L340.2,495.5 L342.5,494.1 L345.1,493.4 L347.7,493.0 L350.3,492.7 L352.9,492.7 L355.2,493.1 L357.5,493.8 L359.9,496.2 L362.2,495.0 L364.5,494.4 L366.8,492.4 L369.1,492.8 L371.4,491.7 L373.7,493.1 L376.0,491.4 L378.3,492.4 L380.6,492.7 L383.7,495.1 L386.7,495.8 L389.3,496.0 L391.9,493.9 L394.5,493.1 L397.0,494.0 L399.4,493.2 L401.9,493.4 L404.4,493.6 L406.9,494.7 L409.3,494.1 L411.8,493.6 L414.3,493.6 L416.8,494.4 L419.2,494.3 L421.7,493.7 L424.2,494.9 L426.7,495.2 L429.1,494.5 L431.5,495.0 L433.9,496.1 L436.2,493.9 L438.6,495.4 L441.0,496.0 L443.3,495.5 L445.7,495.3 L448.0,496.8 L450.4,496.4 L452.8,496.2 L455.1,497.1 L457.6,496.7 L460.1,499.9 L462.6,499.1 L465.0,499.3 L467.5,500.4 L470.0,501.3 L472.5,502.8 L474.8,503.3 L477.0,503.1 L479.3,503.5 L481.6,503.6 L483.9,504.2 L486.2,504.3 L488.5,504.7 L490.8,505.2 L493.1,505.7 L495.4,505.9 L497.7,505.6 L500.0,506.2 L502.5,506.7 L504.9,507.6 L507.4,507.5 L509.9,508.2 L512.4,508.9 L514.8,509.4 L517.3,510.0 L519.8,510.5 L522.3,510.8 L524.7,510.9 L527.2,511.1 L529.7,511.3 L532.2,511.7 L534.6,512.1 L537.1,511.5 L539.6,511.6 L542.1,511.0 L544.5,511.2 L547.0,510.7 L549.5,510.0 L552.0,510.0 L554.3,510.1 L556.6,510.3 L558.9,510.0 L561.2,510.4 L563.5,510.2 L565.8,510.8 L568.1,510.4 L570.4,510.9 L572.8,510.9 L575.1,511.3 L577.4,511.2 L579.7,510.7 L582.0,510.9 L584.3,510.7 L586.6,510.8 L588.9,511.2 L591.2,511.1 L593.5,510.9 L595.9,510.4 L598.2,510.4 L600.5,510.4 L602.8,509.8 L605.1,510.0 L607.4,509.9 L609.7,509.4 L612.0,509.1 L614.3,509.2 L616.6,508.8 L619.0,508.3 L621.3,508.3 L623.7,507.9 L626.2,507.6 L628.7,507.8 L631.2,507.3 L633.6,507.2 L636.1,507.0 L638.6,506.6 L641.1,506.6 L643.5,505.8 L646.0,505.6 L648.5,505.7 L651.0,505.3 L653.4,504.7 L655.9,504.5 L658.4,504.5 L660.9,504.0 L663.3,503.8 L665.8,503.6 L668.3,503.7 L670.8,503.4 L673.2,503.5 L675.7,503.7 L678.2,504.3 L680.7,504.0 L683.1,504.5 L685.6,505.0 L688.1,505.0 L690.6,505.2 L693.0,505.7 L695.4,506.3 L697.8,506.2 L700.3,507.3 L702.7,507.4 L705.0,508.5 L707.3,509.6 L709.6,510.5 L711.9,511.0 L714.2,511.9 L716.5,513.2 L719.0,514.0 L721.4,515.4 L723.8,516.8 L726.2,517.9 L728.7,518.7 L731.6,520.7 L734.4,522.8 L737.3,524.8 L741.7,527.4 L742.5,533.4 L745.1,534.7 L747.7,535.7 L748.6,543.8 L751.2,545.0 L753.8,546.4 L754.7,562.0 L757.7,564.1 L760.7,565.5 L761.6,578.5 L764.6,580.1 L767.6,581.1 L768.5,585.4 L771.4,586.1 L774.3,586.8 L777.2,587.1 L779.7,587.6 L782.1,587.7 L784.6,587.8 L787.1,588.0 L789.6,588.2 L792.0,588.3 L794.5,588.9 L797.1,589.0 L799.7,588.5 L802.3,588.1 L804.9,588.3 L807.1,587.9 L809.3,587.5 L811.6,587.4 L813.8,587.0 L816.0,586.6 L818.3,586.5 L820.5,586.3 L822.7,586.3 L824.9,586.3 L827.2,586.6 L829.4,586.3 L831.6,586.5 L833.8,586.8 L836.1,586.6 L838.4,587.5 L840.7,587.7 L843.0,588.3 L845.6,587.4 L848.2,587.1 L849.9,583.1 L852.5,582.6 L855.1,581.4 L856.0,568.1 L858.6,566.8 L861.2,565.5 L862.9,556.0 L865.5,554.9 L868.1,554.2 L869.9,546.4 L872.5,545.3 L875.1,544.7 L876.8,537.8 L879.4,536.7 L882.0,536.0 L882.8,530.8 L885.4,529.8 L888.0,529.1 L888.9,523.9 L891.1,522.9 L893.3,522.1 L895.6,522.0 L897.8,521.1 L900.0,520.1 L902.6,519.6 L905.2,519.6 L907.8,519.5 L910.4,519.1 L912.6,519.9 L914.9,520.3 L917.2,521.3 L919.4,522.2 L921.7,523.0 L923.9,522.3 L926.2,521.0 L928.4,519.9 L930.7,519.0 L932.9,517.8 L935.2,517.4 L937.5,517.6 L939.8,517.3 L942.1,517.8 L944.3,517.9 L946.5,518.0 L948.8,518.2 L951.0,518.2 L953.2,518.5 L955.4,519.1 L957.8,518.1 L960.2,517.5 L962.6,517.0 L965.0,515.9 L967.3,515.4 L969.7,514.7 L972.1,514.0 L974.5,513.2 L976.8,512.4 L979.0,512.6 L981.3,511.9 L983.6,511.3 L985.8,510.8 L988.1,510.7 L990.3,510.4 L992.6,509.5 L994.9,509.1 L997.1,508.8 L999.4,508.1 L1001.7,507.8 L1003.9,507.4 L1006.1,507.3 L1008.4,506.5 L1010.6,506.3 L1012.8,505.4 L1015.0,505.3 L1017.2,504.8 L1019.4,503.9 L1021.6,503.7 L1023.8,503.3 L1026.0,502.8 L1028.2,502.2 L1030.5,502.0 L1032.8,501.4 L1035.1,501.3 L1037.4,500.8 L1039.7,500.8 L1042.1,500.2 L1044.4,500.3 L1046.7,499.7 L1049.0,499.3 L1051.2,498.9 L1053.4,498.8 L1055.6,498.4 L1057.8,498.7 L1060.0,498.0 L1062.2,498.1 L1064.4,497.7 L1066.6,497.9 L1068.8,497.2 L1071.0,497.4 L1073.2,497.1 L1075.7,497.1 L1078.2,496.6 L1080.7,496.4 L1083.1,496.5 L1085.6,496.5 L1088.1,496.1 L1090.6,496.2 L1093.0,496.0 L1095.5,496.5 L1098.0,497.0 L1100.5,496.7 L1102.9,497.5 L1105.4,497.4 L1107.9,497.6 L1110.2,497.4 L1112.5,497.5 L1114.8,497.8 L1117.1,498.0 L1119.4,497.8 L1121.7,497.9 L1124.1,498.3 L1126.4,498.2 L1128.7,498.4 L1131.0,498.5 L1133.3,498.8 L1135.6,498.8 L1137.8,498.7 L1140.0,498.4 L1142.2,498.2 L1144.4,498.6 L1146.6,497.9 L1148.8,497.9 L1151.0,497.7 L1153.2,498.1 L1155.4,497.8 L1157.6,498.0 L1159.9,497.6 L1162.2,498.2 L1164.5,498.6 L1166.8,499.3 L1169.4,498.6 L1172.0,498.1 L1174.6,497.0 L1177.2,496.5 L1179.7,496.8 L1182.1,496.6 L1184.6,496.4 L1187.1,496.7 L1189.6,496.9 L1192.0,496.7 L1194.5,497.1 L1197.0,497.2 L1199.4,497.0 L1201.9,496.5 L1204.4,496.6 L1206.9,496.3 L1209.3,496.0 L1211.8,495.8 L1214.3,495.5 L1216.8,495.9 L1219.2,495.7 L1221.7,495.2 L1224.2,495.0 L1226.7,494.6 L1229.1,494.8 L1231.5,494.9 L1233.8,495.0 L1236.1,494.7 L1238.4,494.7 L1240.7,494.9 L1243.0,495.0 L1245.3,494.6 L1247.6,494.6 L1249.9,494.9 L1252.2,494.5 L1254.6,495.0 L1256.9,494.7 L1259.2,495.0 L1261.5,494.8 L1263.8,494.8 L1266.0,494.5 L1268.3,494.3 L1270.6,494.3 L1272.8,494.4 L1275.1,494.6 L1277.3,494.6 L1279.6,494.4 L1281.8,494.1 L1284.1,494.3 L1286.3,494.1 L1288.6,494.2 L1290.9,493.8 L1293.2,493.6 L1295.4,493.7 L1297.7,493.5 L1300.0,493.6 L1302.3,493.1 L1304.6,493.3 L1306.9,492.8 L1309.2,493.9 L1311.5,493.0 L1313.9,493.8 L1316.2,493.5 L1318.5,492.4 L1320.8,493.6 L1323.1,493.4 L1325.4,493.0 L1327.7,493.4 L1330.0,492.8 L1332.3,492.1 L1334.6,492.7 L1337.0,492.2 L1339.3,492.3 L1341.6,493.0 L1343.9,493.0 L1346.2,491.9 L1348.5,492.2 L1350.8,491.8 L1353.1,491.9 L1355.4,492.0 L1357.7,492.0 L1360.1,491.6 L1362.4,492.2 L1364.7,491.6 L1367.0,492.5 L1369.3,491.9 L1371.6,491.3 L1373.9,490.6 L1376.2,490.1 L1378.7,490.4 L1381.2,489.7 L1383.6,489.4 L1386.1,489.1 L1388.6,489.2 L1391.1,489.0 L1393.5,489.3 L1395.9,489.7 L1398.2,489.3 L1400.5,489.9 L1402.8,489.4 L1405.1,489.2 L1407.4,489.7 L1409.7,489.9 L1412.0,490.8 L1414.3,489.9 L1416.6,490.0 L1419.0,490.0 L1421.3,490.6 L1423.6,490.3 L1425.9,491.3 L1428.2,491.3 L1430.5,490.4 L1432.8,490.1 L1435.1,490.8 L1437.4,490.9 L1439.7,490.3 L1442.1,490.7 L1444.4,491.2 L1446.7,490.2 L1449.0,491.2 L1451.3,491.2 L1453.6,491.4 L1455.9,491.0 L1458.3,491.3 L1460.7,491.6 L1463.1,492.1 L1465.4,492.4 L1468.0,490.9 L1470.6,490.5 L1473.2,489.6 L1475.7,489.4 L1478.2,489.7 L1480.7,489.6 L1483.1,489.9 L1485.6,490.0 L1488.1,490.8 L1490.6,491.0 L1493.2,490.4 L1495.8,490.6 L1498.4,490.3 L1501.0,490.1 L1503.2,489.6 L1505.4,489.5 L1507.6,490.8 L1509.8,491.2 L1512.0,491.4 L1514.2,491.1 L1516.4,491.4 L1518.6,490.1 L1520.8,491.0 L1523.0,492.5 L1525.2,491.9 L1527.5,491.7 L1529.8,491.1 L1532.1,492.1 L1534.4,493.3 L1536.8,491.5 L1539.1,492.7 L1541.7,497.1 L1544.7,494.3 L1547.7,493.6 L1550.8,495.7 L1553.8,497.9 L1556.8,497.6 L1559.9,495.3 L1562.2,495.9 L1564.5,496.4 L1566.8,497.9 L1569.8,499.5 L1572.8,499.6 L1573.7,494.1 L1576.0,493.2 L1578.3,493.8 L1580.6,494.5 L1583.2,496.0 L1585.8,497.1 L1588.7,498.2 L1591.6,498.6 L1594.5,497.9 L1597.4,496.0 L1600.3,494.4 L1603.2,493.6 L1604.9,499.6 L1607.5,498.9 L1610.1,498.8 L1612.4,498.7 L1614.7,499.9 L1617.0,501.4 L1619.3,502.9 L1621.6,504.4 L1623.9,504.0 L1627.0,506.4 L1630.0,510.0 L1630.9,519.6 L1633.5,519.8 L1636.1,522.2 L1636.9,532.6 L1639.5,534.9 L1642.1,536.0 L1643.0,568.1 L1645.6,572.8 L1648.2,575.0 L1649.1,580.2 L1649.9,575.0 L1652.5,574.9 L1655.1,573.3 L1656.1,564.6 L1661.3,575.0 L1662.1,567.2 L1665.2,565.3 L1668.2,563.7 L1668.7,535.2 L1671.5,534.5 L1674.3,532.6 L1675.1,523.0 L1677.7,523.7 L1680.3,523.0 L1681.2,529.1 L1684.2,530.6 L1687.2,530.8 L1688.1,540.4 L1691.1,539.0 L1694.2,537.8 L1694.7,527.4 L1697.0,527.4 L1699.4,524.8 L1700.2,530.0 L1702.7,528.5 L1705.1,525.6 L1706.3,530.8 L1709.3,531.0 L1712.4,532.6 L1713.2,555.1 L1715.8,558.4 L1718.4,562.0 L1719.3,579.3 L1721.9,579.1 L1724.5,581.1 L1726.2,583.7 L1728.8,583.3 L1731.4,583.7 L1733.2,580.2 L1735.8,579.7 L1738.3,578.5 L1739.2,568.9 L1741.8,568.1 L1744.4,567.2 L1744.9,543.8 L1747.7,542.6 L1750.5,541.2 L1751.3,536.9 L1753.9,536.8 L1756.5,536.0 L1757.4,550.8 L1760.0,549.8 L1762.6,549.9 L1763.5,536.9 L1766.5,535.4 L1769.5,534.3 L1770.4,543.8 L1773.0,546.4 L1775.6,549.0 L1776.5,573.3 L1779.5,572.8 L1782.5,572.4 L1782.5,554.2 L1785.6,553.6 L1788.6,552.5 L1789.5,540.9 L1792.1,541.1 L1794.7,540.5 L1797.2,539.8 L1801.6,544.7 L1802.4,540.4 L1805.0,538.7 L1807.6,536.9 L1808.5,530.5 L1811.1,530.7 L1813.7,530.5 L1814.6,532.6 L1816.9,533.5 L1819.2,534.9 L1821.5,535.2 L1824.1,534.8 L1826.7,534.3 L1829.7,531.8 L1832.8,529.1 L1833.6,525.6 L1836.7,524.2 L1839.7,523.0 L1842.7,523.2 L1845.8,523.6 L1848.8,523.2 L1851.8,522.2 L1852.7,517.8 L1855.7,516.8 L1858.7,516.1 L1861.8,516.0 L1864.8,514.9 L1865.7,510.9 L1868.7,510.8 L1871.7,510.0 L1874.3,510.2 L1876.9,509.2 L1877.8,505.7 L1880.8,505.1 L1883.9,504.0 L1886.5,503.6 L1889.1,503.1 L1889.9,505.7 L1893.0,506.0 L1896.0,506.6 L1896.9,502.2 L1899.9,500.4 L1902.9,499.6 L1905.2,500.0 L1907.5,500.2 L1909.9,500.0 L1912.2,500.7 L1914.5,501.2 L1916.8,501.4 L1919.8,499.5 L1922.8,498.8 L1927.2,498.3 L1929.5,498.9 L1931.8,498.9 L1934.1,499.6 L1935.8,497.9 L1938.4,497.4 L1941.0,497.5 L1943.6,496.5 L1946.2,496.2 L1947.1,491.0 L1949.7,490.1 L1952.3,489.3 L1954.9,488.1 L1957.5,487.7 L1960.1,487.5 L1963.1,488.0 L1966.2,489.3 L1967.0,491.0 L1970.1,490.6 L1973.1,491.0 L1973.6,484.9 L1975.9,484.4 L1978.2,483.3 L1980.6,482.9 L1982.9,482.3 L1985.2,482.3 L1989.5,482.0 L1991.9,482.7 L1994.2,483.4 L1996.5,483.2 L1998.2,485.4 L2001.2,485.5 L2004.3,484.9 L2007.3,485.8 L2010.3,486.7 L2012.6,486.8 L2014.9,488.2 L2017.3,488.4 L2018.1,491.3 L2020.7,491.6 L2023.3,492.3 L2025.9,493.6 L2028.5,495.8 L2031.1,497.9 L2033.7,499.4 L2036.3,499.8 L2038.9,501.0 L2041.1,501.7 L2043.3,501.4 L2045.5,501.9 L2047.8,503.3 L2050.0,503.7 L2052.2,504.5 L2054.4,505.3 L2056.7,505.8 L2058.9,506.1 L2061.7,506.8 L2064.6,508.2 L2067.4,509.2 L2070.2,506.1 L2072.9,503.0 L2076.0,502.8 L2079.1,502.2 L2081.7,503.1 L2084.3,504.7 L2086.9,505.8 L2090.0,504.1 L2093.1,503.0 L2095.4,502.8 L2097.8,503.4 L2100.1,503.7 L2102.4,509.2 L2104.8,512.3 L2107.1,508.4 L2109.4,503.0 L2112.2,502.6 L2114.9,501.4 L2117.2,502.6 L2119.5,503.7 L2121.9,505.3 L2125.8,500.6 L2128.5,500.8 L2131.2,501.4 L2135.1,496.7 L2137.8,495.3 L2140.5,494.4 L2144.4,493.6 L2146.8,494.6 L2149.1,496.0 L2152.2,496.6 L2155.3,497.5 L2157.7,500.0 L2160.0,503.0 L2163.1,508.4 L2165.4,513.1 L2167.8,509.2 L2170.1,508.6 L2172.4,508.4 L2175.5,511.2 L2178.7,514.6 L2181.0,516.7 L2183.3,519.3 L2188.0,526.3 L2191.9,537.2 L2194.2,544.2 L2196.5,537.2 L2198.9,524.7 L2202.0,517.7 L2205.1,516.8 L2208.2,515.4 L2210.5,515.7 L2212.9,515.7 L2215.2,513.0 L2217.5,510.0 L2220.6,509.7 L2223.8,508.4 L2226.1,508.6 L2228.4,508.4 L2231.5,506.4 L2234.6,505.3 L2237.2,504.8 L2239.8,504.6 L2242.4,504.2 L2245.5,503.1 L2248.6,501.4 L2251.8,500.7 L2254.9,499.9 L2258.0,499.5 L2261.1,500.2 L2263.4,500.4 L2265.8,500.6 L2268.2,501.6 L2270.7,502.2" stroke="#1A6FDF"/>
<path d="M114.7,328.5 L126.0,327.8 L139.8,328.1 L146.8,329.9 L152.0,328.1 L158.0,331.3 L165.8,327.3 L170.2,326.4 L171.0,337.7 L176.2,335.9 L177.1,331.6 L181.4,330.7 L183.2,335.9 L185.8,331.6 L188.3,335.9 L190.9,331.6 L194.4,337.7 L197.9,332.5 L201.3,341.1 L203.9,332.5 L206.5,336.8 L209.1,331.6 L212.6,337.7 L215.2,339.4 L217.8,334.2 L221.3,335.9 L223.9,332.5 L227.3,342.9 L229.1,331.6 L232.5,329.0 L234.3,338.5 L236.9,329.9 L238.6,337.7 L241.2,327.3 L247.2,327.3 L249.0,330.7 L253.3,328.1 L255.9,329.9 L258.5,329.0 L261.1,332.5 L265.4,330.7 L266.3,337.7 L270.6,338.5 L272.4,342.9 L274.1,331.6 L276.7,335.9 L278.4,327.3 L282.8,323.0 L284.5,318.6 L286.2,323.0 L290.6,324.7 L291.4,330.7 L296.6,331.6 L297.5,322.1 L304.4,321.2 L305.3,327.3 L309.6,329.0 L310.5,335.9 L312.2,329.0 L315.7,342.9 L318.3,337.7 L320.9,339.4 L322.6,329.0 L330.4,329.0 L331.3,337.7 L333.9,338.5 L335.6,344.6 L337.3,330.7 L341.7,326.4 L344.3,329.0 L347.7,325.6 L351.2,329.0 L353.8,327.3 L354.7,335.9 L359.9,335.1 L360.7,323.8 L366.8,323.8 L368.5,327.3 L372.8,328.1 L373.7,333.3 L375.4,327.3 L380.6,328.1 L385.8,330.7 L386.7,338.5 L388.4,330.7 L392.8,328.1 L399.7,332.5 L402.0,331.0 L404.3,329.7 L406.6,328.1 L409.2,329.9 L411.8,330.7 L414.1,329.8 L416.4,329.0 L418.8,328.1 L421.1,329.3 L423.4,329.9 L425.7,331.3 L428.6,330.2 L431.5,329.3 L434.3,328.1 L437.2,329.0 L440.1,328.9 L443.0,329.9 L445.3,329.5 L447.6,329.2 L449.9,329.8 L452.2,329.5 L454.6,328.7 L456.9,329.0 L459.2,330.1 L461.5,330.6 L463.8,330.7 L466.3,330.8 L468.7,330.6 L471.2,330.0 L473.7,329.8 L476.2,330.2 L478.6,329.6 L481.1,329.9 L483.5,329.8 L485.8,330.1 L488.2,330.1 L490.6,330.7 L492.9,330.9 L495.3,331.5 L497.6,331.4 L500.0,331.6 L502.5,331.9 L504.9,331.9 L507.4,332.1 L509.9,332.1 L512.4,332.0 L514.8,332.9 L517.3,332.5 L519.6,333.1 L521.9,333.1 L524.3,333.1 L526.6,332.8 L528.9,332.9 L531.2,333.1 L533.5,333.0 L535.8,333.8 L538.1,333.7 L540.3,333.5 L542.6,333.9 L544.8,333.3 L547.0,333.8 L549.2,333.6 L551.5,332.7 L553.7,332.8 L555.9,333.4 L558.2,332.9 L560.4,333.3 L562.6,332.6 L564.8,332.2 L567.1,332.7 L569.3,332.5 L571.5,332.7 L573.7,332.2 L575.9,331.9 L578.1,332.1 L580.3,332.7 L582.5,332.5 L584.7,331.8 L586.9,331.8 L589.1,331.7 L591.3,331.6 L593.5,332.0 L595.9,332.1 L598.2,331.4 L600.5,331.6 L602.8,331.3 L605.1,330.9 L607.4,331.3 L609.7,330.6 L612.0,330.9 L614.3,330.3 L616.6,330.4 L619.0,330.1 L621.3,330.2 L623.6,330.0 L625.9,330.6 L628.2,330.4 L630.5,329.8 L632.8,330.4 L635.1,329.7 L637.4,329.8 L639.7,330.2 L642.1,330.0 L644.4,329.4 L646.7,330.2 L649.0,329.4 L651.3,329.4 L653.6,329.9 L655.9,329.5 L658.2,329.3 L660.5,329.2 L662.8,328.9 L665.2,328.9 L667.5,329.3 L669.8,328.9 L672.1,329.2 L674.4,328.9 L676.7,329.0 L679.1,329.1 L681.4,329.8 L683.8,329.5 L686.1,329.7 L688.5,330.2 L690.9,329.6 L693.2,329.8 L695.6,330.7 L698.0,330.8 L700.3,330.3 L702.7,330.7 L721.7,333.0 L735.6,336.5 L747.7,341.1 L749.5,346.3 L753.8,348.1 L754.7,357.6 L760.7,360.2 L761.6,373.2 L767.6,374.9 L768.5,381.9 L777.2,382.7 L794.5,385.0 L808.4,383.6 L817.0,381.0 L821.4,379.3 L825.7,381.0 L839.5,383.9 L844.7,382.7 L849.1,380.1 L849.9,368.0 L855.1,366.3 L856.0,355.0 L861.2,353.3 L862.9,348.9 L868.1,347.2 L869.9,344.6 L875.1,342.9 L876.8,340.3 L886.3,336.8 L891.5,335.1 L900.0,334.7 L917.3,336.5 L934.6,334.2 L969.3,331.6 L1003.9,329.0 L1038.6,327.3 L1073.2,326.4 L1159.9,326.8 L1246.5,326.8 L1300.0,326.8 L1302.3,326.3 L1304.6,327.3 L1306.9,327.7 L1309.2,326.6 L1311.5,327.8 L1313.9,327.8 L1316.2,327.4 L1318.5,327.2 L1320.8,326.8 L1323.1,326.7 L1325.4,328.3 L1327.7,327.2 L1330.0,328.0 L1332.3,327.3 L1334.6,327.8 L1337.0,328.4 L1339.3,328.2 L1341.6,327.8 L1343.9,327.7 L1346.2,328.7 L1348.5,327.8 L1350.8,328.2 L1353.1,328.8 L1355.4,329.4 L1357.7,329.1 L1360.1,328.7 L1362.4,329.9 L1364.7,328.8 L1367.0,328.6 L1369.3,329.5 L1371.8,329.3 L1374.2,329.8 L1376.7,329.4 L1379.2,329.7 L1381.7,330.2 L1384.1,330.7 L1386.6,330.7 L1389.0,330.1 L1391.3,330.4 L1393.7,331.1 L1396.1,331.2 L1398.4,330.6 L1400.8,330.6 L1403.2,330.3 L1405.5,329.5 L1407.9,329.3 L1410.2,329.2 L1412.6,329.9 L1415.2,333.3 L1418.2,332.4 L1421.3,330.2 L1423.6,331.7 L1425.9,333.4 L1428.2,333.0 L1430.8,331.1 L1433.4,332.3 L1436.0,331.3 L1438.6,330.7 L1440.9,331.7 L1443.2,330.8 L1445.5,333.0 L1447.8,330.7 L1450.1,332.3 L1452.4,332.5 L1455.0,332.7 L1457.6,332.7 L1460.2,331.8 L1462.8,330.7 L1465.4,338.5 L1467.2,330.7 L1469.4,331.8 L1471.7,332.5 L1473.9,333.3 L1476.2,332.1 L1478.4,333.0 L1480.7,333.3 L1483.1,333.8 L1485.4,332.5 L1489.7,336.8 L1492.7,335.3 L1495.8,331.6 L1498.1,331.7 L1500.4,333.0 L1502.7,332.5 L1505.3,335.2 L1507.9,335.1 L1510.5,335.2 L1513.1,335.1 L1515.7,334.0 L1518.3,334.2 L1520.6,335.4 L1522.9,336.4 L1525.2,336.8 L1527.8,333.8 L1530.4,334.2 L1533.3,334.2 L1536.2,335.0 L1539.1,332.5 L1540.8,343.7 L1543.4,335.1 L1546.9,327.3 L1549.5,336.8 L1552.9,334.2 L1556.4,337.7 L1559.9,342.9 L1562.5,335.9 L1566.8,338.5 L1570.2,330.7 L1572.8,327.3 L1574.6,335.9 L1577.2,329.0 L1579.3,343.7 L1581.5,331.6 L1584.1,341.1 L1586.7,335.1 L1590.2,340.3 L1594.5,334.2 L1598.8,325.6 L1601.4,333.3 L1604.0,343.7 L1605.8,334.2 L1608.8,336.6 L1611.8,335.9 L1615.3,339.4 L1618.8,335.9 L1622.2,340.3 L1623.6,331.6 L1624.8,340.3 L1627.4,341.6 L1630.0,341.1 L1630.9,347.2 L1633.5,347.6 L1636.1,348.9 L1636.9,355.0 L1639.5,356.8 L1642.1,356.7 L1643.0,387.0 L1645.6,388.2 L1648.2,388.8 L1649.1,373.2 L1651.7,372.5 L1654.3,372.3 L1655.2,372.3 L1656.9,375.8 L1660.4,370.6 L1661.3,387.0 L1663.0,363.7 L1667.3,368.0 L1669.1,355.9 L1672.1,355.5 L1675.1,352.4 L1677.7,355.0 L1680.3,349.8 L1682.9,356.7 L1686.4,364.5 L1689.0,356.7 L1691.6,353.3 L1693.3,359.3 L1695.9,350.7 L1699.4,347.2 L1702.0,351.5 L1705.4,349.8 L1706.3,359.3 L1708.9,352.4 L1713.2,354.1 L1714.1,382.7 L1718.4,385.3 L1719.3,390.5 L1722.8,388.8 L1725.4,393.1 L1728.8,388.8 L1732.3,387.0 L1733.2,380.1 L1735.8,377.8 L1738.3,377.5 L1739.2,368.0 L1741.8,367.3 L1744.4,365.4 L1744.9,351.5 L1747.7,350.0 L1750.5,350.7 L1752.2,356.7 L1754.8,355.0 L1757.4,360.2 L1760.9,355.0 L1763.5,350.7 L1766.5,350.5 L1769.5,349.8 L1770.4,362.8 L1773.0,365.3 L1775.6,368.0 L1776.5,377.5 L1779.1,368.9 L1782.5,362.8 L1786.9,352.4 L1789.2,352.3 L1791.5,354.0 L1793.8,354.1 L1797.2,351.5 L1801.6,360.2 L1802.4,348.9 L1804.8,348.1 L1807.1,347.5 L1809.4,346.3 L1811.7,348.5 L1814.0,348.1 L1816.3,349.8 L1818.6,348.3 L1820.9,348.7 L1823.2,348.9 L1826.1,347.3 L1829.0,344.2 L1831.9,342.9 L1834.8,341.8 L1837.7,343.3 L1840.6,342.0 L1843.4,341.8 L1846.3,340.7 L1849.2,340.3 L1852.1,340.9 L1855.0,339.3 L1857.9,339.4 L1860.4,339.3 L1862.8,337.7 L1865.3,337.8 L1867.8,338.2 L1870.3,337.9 L1872.7,337.4 L1875.2,335.9 L1877.7,335.7 L1880.2,336.1 L1882.6,335.5 L1885.1,335.1 L1887.6,335.9 L1890.1,336.8 L1892.5,335.9 L1895.4,336.2 L1898.3,335.3 L1901.2,334.2 L1903.7,335.0 L1906.1,334.4 L1908.6,334.6 L1911.1,335.1 L1913.6,335.2 L1916.0,335.4 L1918.5,335.9 L1920.9,336.0 L1923.4,336.4 L1925.8,336.5 L1928.2,336.4 L1930.6,336.8 L1933.0,337.1 L1935.3,337.1 L1937.6,336.3 L1939.9,335.7 L1942.2,335.5 L1944.5,335.9 L1946.8,335.7 L1949.1,334.0 L1951.4,334.0 L1953.7,333.1 L1956.0,332.1 L1958.4,331.6 L1961.2,332.5 L1964.1,332.2 L1967.0,333.3 L1969.4,332.2 L1971.9,331.9 L1974.3,330.7 L1976.7,331.0 L1979.1,329.9 L1981.4,329.4 L1983.6,329.1 L1985.8,328.9 L1988.0,329.4 L1990.2,329.0 L1992.4,329.1 L1994.6,329.0 L1996.8,329.0 L1999.0,329.0 L2001.2,328.5 L2003.4,328.1 L2005.8,328.0 L2008.2,328.6 L2010.5,328.4 L2012.9,328.4 L2015.3,329.2 L2017.7,329.7 L2020.1,329.3 L2022.5,329.9 L2025.3,330.5 L2028.2,331.4 L2031.1,332.5 L2033.7,332.8 L2036.3,332.7 L2038.9,332.8 L2040.2,333.2 L2042.9,333.4 L2045.7,333.6 L2048.4,333.1 L2051.1,333.2 L2053.4,333.8 L2055.8,334.1 L2058.1,333.4 L2060.4,334.6 L2062.8,334.5 L2065.1,334.5 L2067.7,332.9 L2070.3,332.0 L2072.9,330.9 L2075.4,331.2 L2077.9,331.7 L2080.3,331.2 L2082.8,331.6 L2085.3,331.7 L2088.0,331.8 L2090.8,331.4 L2093.5,331.3 L2096.2,330.4 L2099.3,333.0 L2102.4,335.6 L2105.5,330.9 L2107.9,330.8 L2110.2,330.0 L2112.5,330.4 L2114.9,330.3 L2117.2,329.8 L2119.5,329.4 L2122.7,328.1 L2125.8,326.2 L2128.9,327.0 L2131.2,325.1 L2133.5,323.9 L2135.9,324.2 L2138.2,324.1 L2140.5,323.9 L2142.9,323.1 L2145.2,323.2 L2147.5,323.5 L2149.9,322.9 L2152.2,323.1 L2154.5,325.7 L2156.9,327.7 L2159.2,329.4 L2161.5,331.1 L2163.9,333.2 L2167.0,329.8 L2169.7,329.9 L2172.4,330.9 L2174.8,332.4 L2177.1,334.1 L2179.4,335.9 L2181.8,337.1 L2184.9,340.6 L2188.0,344.1 L2191.4,352.7 L2195.0,342.6 L2198.9,336.4 L2201.2,335.4 L2203.5,335.6 L2206.1,337.0 L2208.7,337.1 L2211.3,338.7 L2213.9,338.8 L2216.5,337.8 L2219.1,337.9 L2221.4,336.9 L2223.8,336.7 L2226.1,335.1 L2228.4,334.8 L2230.8,334.3 L2233.1,334.7 L2235.4,334.8 L2237.8,334.5 L2240.5,334.0 L2243.2,332.9 L2245.9,332.3 L2248.6,330.9 L2251.8,330.4 L2254.9,329.8 L2258.0,330.9 L2261.1,330.9 L2263.5,330.1 L2265.9,330.0 L2268.3,330.1 L2270.7,329.8" stroke="#37AD6B"/>
<path d="M114.7,330.0 L126.0,329.3 L139.8,329.6 L146.8,331.4 L152.0,329.6 L158.0,332.8 L165.8,328.8 L170.2,327.9 L171.0,339.2 L176.2,337.4 L177.1,333.1 L181.4,332.2 L183.2,337.4 L185.8,333.1 L188.3,337.4 L190.9,333.1 L194.4,339.2 L197.9,334.0 L201.3,342.6 L203.9,334.0 L206.5,338.3 L209.1,333.1 L212.6,339.2 L215.2,340.9 L217.8,335.7 L221.3,337.4 L223.9,334.0 L227.3,344.4 L229.1,333.1 L232.5,330.5 L234.3,340.0 L236.9,331.4 L238.6,339.2 L241.2,328.8 L247.2,328.8 L249.0,332.2 L253.3,329.6 L255.9,331.4 L258.5,330.5 L261.1,334.0 L265.4,332.2 L266.3,339.2 L270.6,340.0 L272.4,344.4 L274.1,333.1 L276.7,337.4 L278.4,328.8 L282.8,324.5 L284.5,320.1 L286.2,324.5 L290.6,326.2 L291.4,332.2 L296.6,333.1 L297.5,323.6 L304.4,322.7 L305.3,328.8 L309.6,330.5 L310.5,337.4 L312.2,330.5 L315.7,344.4 L318.3,339.2 L320.9,340.9 L322.6,330.5 L330.4,330.5 L331.3,339.2 L333.9,340.0 L335.6,346.1 L337.3,332.2 L341.7,327.9 L344.3,330.5 L347.7,327.1 L351.2,330.5 L353.8,328.8 L354.7,337.4 L359.9,336.6 L360.7,325.3 L366.8,325.3 L368.5,328.8 L372.8,329.6 L373.7,334.8 L375.4,328.8 L380.6,329.6 L385.8,332.2 L386.7,340.0 L388.4,332.2 L392.8,329.6 L399.7,334.0 L402.0,332.5 L404.3,331.2 L406.6,329.6 L409.2,331.4 L411.8,332.2 L414.1,331.3 L416.4,330.5 L418.8,329.6 L421.1,330.8 L423.4,331.4 L425.7,332.8 L428.6,331.7 L431.5,330.8 L434.3,329.6 L437.2,330.5 L440.1,330.4 L443.0,331.4 L445.3,331.0 L447.6,330.7 L449.9,331.3 L452.2,331.0 L454.6,330.2 L456.9,330.5 L459.2,331.6 L461.5,332.1 L463.8,332.2 L466.3,332.3 L468.7,332.1 L471.2,331.5 L473.7,331.3 L476.2,331.7 L478.6,331.1 L481.1,331.4 L483.5,331.3 L485.8,331.6 L488.2,331.6 L490.6,332.2 L492.9,332.4 L495.3,333.0 L497.6,332.9 L500.0,333.1 L502.5,333.4 L504.9,333.4 L507.4,333.6 L509.9,333.6 L512.4,333.5 L514.8,334.4 L517.3,334.0 L519.6,334.6 L521.9,334.6 L524.3,334.6 L526.6,334.3 L528.9,334.4 L531.2,334.6 L533.5,334.5 L535.8,335.3 L538.1,335.2 L540.3,335.0 L542.6,335.4 L544.8,334.8 L547.0,335.3 L549.2,335.1 L551.5,334.2 L553.7,334.3 L555.9,334.9 L558.2,334.4 L560.4,334.8 L562.6,334.1 L564.8,333.7 L567.1,334.2 L569.3,334.0 L571.5,334.2 L573.7,333.7 L575.9,333.4 L578.1,333.6 L580.3,334.2 L582.5,334.0 L584.7,333.3 L586.9,333.3 L589.1,333.2 L591.3,333.1 L593.5,333.5 L595.9,333.6 L598.2,332.9 L600.5,333.1 L602.8,332.8 L605.1,332.4 L607.4,332.8 L609.7,332.1 L612.0,332.4 L614.3,331.8 L616.6,331.9 L619.0,331.6 L621.3,331.7 L623.6,331.5 L625.9,332.1 L628.2,331.9 L630.5,331.3 L632.8,331.9 L635.1,331.2 L637.4,331.3 L639.7,331.7 L642.1,331.5 L644.4,330.9 L646.7,331.7 L649.0,330.9 L651.3,330.9 L653.6,331.4 L655.9,331.0 L658.2,330.8 L660.5,330.7 L662.8,330.4 L665.2,330.4 L667.5,330.8 L669.8,330.4 L672.1,330.7 L674.4,330.4 L676.7,330.5 L679.1,330.6 L681.4,331.3 L683.8,331.0 L686.1,331.2 L688.5,331.7 L690.9,331.1 L693.2,331.3 L695.6,332.2 L698.0,332.3 L700.3,331.8 L702.7,332.2 L721.7,334.5 L735.6,338.0 L747.7,342.6 L749.5,347.8 L753.8,349.6 L754.7,359.1 L760.7,361.7 L761.6,374.7 L767.6,376.4 L768.5,383.4 L777.2,384.2 L794.5,386.5 L808.4,385.1 L817.0,382.5 L821.4,380.8 L825.7,382.5 L839.5,385.4 L844.7,384.2 L849.1,381.6 L849.9,369.5 L855.1,367.8 L856.0,356.5 L861.2,354.8 L862.9,350.4 L868.1,348.7 L869.9,346.1 L875.1,344.4 L876.8,341.8 L886.3,338.3 L891.5,336.6 L900.0,336.2 L917.3,338.0 L934.6,335.7 L969.3,333.1 L1003.9,330.5 L1038.6,328.8 L1073.2,327.9 L1159.9,328.3 L1246.5,328.3 L1300.0,328.3 L1302.3,327.8 L1304.6,328.8 L1306.9,329.2 L1309.2,328.1 L1311.5,329.3 L1313.9,329.3 L1316.2,328.9 L1318.5,328.7 L1320.8,328.3 L1323.1,328.2 L1325.4,329.8 L1327.7,328.7 L1330.0,329.5 L1332.3,328.8 L1334.6,329.3 L1337.0,329.9 L1339.3,329.7 L1341.6,329.3 L1343.9,329.2 L1346.2,330.2 L1348.5,329.3 L1350.8,329.7 L1353.1,330.3 L1355.4,330.9 L1357.7,330.6 L1360.1,330.2 L1362.4,331.4 L1364.7,330.3 L1367.0,330.1 L1369.3,331.0 L1371.8,330.8 L1374.2,331.3 L1376.7,330.9 L1379.2,331.2 L1381.7,331.7 L1384.1,332.2 L1386.6,332.2 L1389.0,331.6 L1391.3,331.9 L1393.7,332.6 L1396.1,332.7 L1398.4,332.1 L1400.8,332.1 L1403.2,331.8 L1405.5,331.0 L1407.9,330.8 L1410.2,330.7 L1412.6,331.4 L1415.2,334.8 L1418.2,333.9 L1421.3,331.7 L1423.6,333.2 L1425.9,334.9 L1428.2,334.5 L1430.8,332.6 L1433.4,333.8 L1436.0,332.8 L1438.6,332.2 L1440.9,333.2 L1443.2,332.3 L1445.5,334.5 L1447.8,332.2 L1450.1,333.8 L1452.4,334.0 L1455.0,334.2 L1457.6,334.2 L1460.2,333.3 L1462.8,332.2 L1465.4,340.0 L1467.2,332.2 L1469.4,333.3 L1471.7,334.0 L1473.9,334.8 L1476.2,333.6 L1478.4,334.5 L1480.7,334.8 L1483.1,335.3 L1485.4,334.0 L1489.7,338.3 L1492.7,336.8 L1495.8,333.1 L1498.1,333.2 L1500.4,334.5 L1502.7,334.0 L1505.3,336.7 L1507.9,336.6 L1510.5,336.7 L1513.1,336.6 L1515.7,335.5 L1518.3,335.7 L1520.6,336.9 L1522.9,337.9 L1525.2,338.3 L1527.8,335.3 L1530.4,335.7 L1533.3,335.7 L1536.2,336.5 L1539.1,334.0 L1540.8,345.2 L1543.4,336.6 L1546.9,328.8 L1549.5,338.3 L1552.9,335.7 L1556.4,339.2 L1559.9,344.4 L1562.5,337.4 L1566.8,340.0 L1570.2,332.2 L1572.8,328.8 L1574.6,337.4 L1577.2,330.5 L1579.3,345.2 L1581.5,333.1 L1584.1,342.6 L1586.7,336.6 L1590.2,341.8 L1594.5,335.7 L1598.8,327.1 L1601.4,334.8 L1604.0,345.2 L1605.8,335.7 L1608.8,338.1 L1611.8,337.4 L1615.3,340.9 L1618.8,337.4 L1622.2,341.8 L1623.6,333.1 L1624.8,341.8 L1627.4,343.1 L1630.0,342.6 L1630.9,348.7 L1633.5,349.1 L1636.1,350.4 L1636.9,356.5 L1639.5,358.3 L1642.1,358.2 L1643.0,388.5 L1645.6,389.7 L1648.2,390.3 L1649.1,374.7 L1651.7,374.0 L1654.3,373.8 L1655.2,373.8 L1656.9,377.3 L1660.4,372.1 L1661.3,388.5 L1663.0,365.2 L1667.3,369.5 L1669.1,357.4 L1672.1,357.0 L1675.1,353.9 L1677.7,356.5 L1680.3,351.3 L1682.9,358.2 L1686.4,366.0 L1689.0,358.2 L1691.6,354.8 L1693.3,360.8 L1695.9,352.2 L1699.4,348.7 L1702.0,353.0 L1705.4,351.3 L1706.3,360.8 L1708.9,353.9 L1713.2,355.6 L1714.1,384.2 L1718.4,386.8 L1719.3,392.0 L1722.8,390.3 L1725.4,394.6 L1728.8,390.3 L1732.3,388.5 L1733.2,381.6 L1735.8,379.3 L1738.3,379.0 L1739.2,369.5 L1741.8,368.8 L1744.4,366.9 L1744.9,353.0 L1747.7,351.5 L1750.5,352.2 L1752.2,358.2 L1754.8,356.5 L1757.4,361.7 L1760.9,356.5 L1763.5,352.2 L1766.5,352.0 L1769.5,351.3 L1770.4,364.3 L1773.0,366.8 L1775.6,369.5 L1776.5,379.0 L1779.1,370.4 L1782.5,364.3 L1786.9,353.9 L1789.2,353.8 L1791.5,355.5 L1793.8,355.6 L1797.2,353.0 L1801.6,361.7 L1802.4,350.4 L1804.8,349.6 L1807.1,349.0 L1809.4,347.8 L1811.7,350.0 L1814.0,349.6 L1816.3,351.3 L1818.6,349.8 L1820.9,350.2 L1823.2,350.4 L1826.1,348.8 L1829.0,345.7 L1831.9,344.4 L1834.8,343.3 L1837.7,344.8 L1840.6,343.5 L1843.4,343.3 L1846.3,342.2 L1849.2,341.8 L1852.1,342.4 L1855.0,340.8 L1857.9,340.9 L1860.4,340.8 L1862.8,339.2 L1865.3,339.3 L1867.8,339.7 L1870.3,339.4 L1872.7,338.9 L1875.2,337.4 L1877.7,337.2 L1880.2,337.6 L1882.6,337.0 L1885.1,336.6 L1887.6,337.4 L1890.1,338.3 L1892.5,337.4 L1895.4,337.7 L1898.3,336.8 L1901.2,335.7 L1903.7,336.5 L1906.1,335.9 L1908.6,336.1 L1911.1,336.6 L1913.6,336.7 L1916.0,336.9 L1918.5,337.4 L1920.9,337.5 L1923.4,337.9 L1925.8,338.0 L1928.2,337.9 L1930.6,338.3 L1933.0,338.6 L1935.3,338.6 L1937.6,337.8 L1939.9,337.2 L1942.2,337.0 L1944.5,337.4 L1946.8,337.2 L1949.1,335.5 L1951.4,335.5 L1953.7,334.6 L1956.0,333.6 L1958.4,333.1 L1961.2,334.0 L1964.1,333.7 L1967.0,334.8 L1969.4,333.7 L1971.9,333.4 L1974.3,332.2 L1976.7,332.5 L1979.1,331.4 L1981.4,330.9 L1983.6,330.6 L1985.8,330.4 L1988.0,330.9 L1990.2,330.5 L1992.4,330.6 L1994.6,330.5 L1996.8,330.5 L1999.0,330.5 L2001.2,330.0 L2003.4,329.6 L2005.8,329.5 L2008.2,330.1 L2010.5,329.9 L2012.9,329.9 L2015.3,330.7 L2017.7,331.2 L2020.1,330.8 L2022.5,331.4 L2025.3,332.0 L2028.2,332.9 L2031.1,334.0 L2033.7,334.3 L2036.3,334.2 L2038.9,334.3 L2040.2,334.7 L2042.9,334.9 L2045.7,335.1 L2048.4,334.6 L2051.1,334.7 L2053.4,335.3 L2055.8,335.6 L2058.1,334.9 L2060.4,336.1 L2062.8,336.0 L2065.1,336.0 L2067.7,334.4 L2070.3,333.5 L2072.9,332.4 L2075.4,332.7 L2077.9,333.2 L2080.3,332.7 L2082.8,333.1 L2085.3,333.2 L2088.0,333.3 L2090.8,332.9 L2093.5,332.8 L2096.2,331.9 L2099.3,334.5 L2102.4,337.1 L2105.5,332.4 L2107.9,332.3 L2110.2,331.5 L2112.5,331.9 L2114.9,331.8 L2117.2,331.3 L2119.5,330.9 L2122.7,329.6 L2125.8,327.7 L2128.9,328.5 L2131.2,326.6 L2133.5,325.4 L2135.9,325.7 L2138.2,325.6 L2140.5,325.4 L2142.9,324.6 L2145.2,324.7 L2147.5,325.0 L2149.9,324.4 L2152.2,324.6 L2154.5,327.2 L2156.9,329.2 L2159.2,330.9 L2161.5,332.6 L2163.9,334.7 L2167.0,331.3 L2169.7,331.4 L2172.4,332.4 L2174.8,333.9 L2177.1,335.6 L2179.4,337.4 L2181.8,338.6 L2184.9,342.1 L2188.0,345.6 L2191.4,354.2 L2195.0,344.1 L2198.9,337.9 L2201.2,336.9 L2203.5,337.1 L2206.1,338.5 L2208.7,338.6 L2211.3,340.2 L2213.9,340.3 L2216.5,339.3 L2219.1,339.4 L2221.4,338.4 L2223.8,338.2 L2226.1,336.6 L2228.4,336.3 L2230.8,335.8 L2233.1,336.2 L2235.4,336.3 L2237.8,336.0 L2240.5,335.5 L2243.2,334.4 L2245.9,333.8 L2248.6,332.4 L2251.8,331.9 L2254.9,331.3 L2258.0,332.4 L2261.1,332.4 L2263.5,331.6 L2265.9,331.5 L2268.3,331.6 L2270.7,331.3" stroke="#37AD6B"/>
</g>
<rect x="113.7" y="35.5" width="2157.7" height="1150.0" fill="none" stroke="#000" stroke-width="4.0"/>
<path d="M113.7,1185.5 V1158.0 M431.0,1185.5 V1158.0 M748.4,1185.5 V1158.0 M1065.7,1185.5 V1158.0 M1383.0,1185.5 V1158.0 M1700.3,1185.5 V1158.0 M2017.7,1185.5 V1158.0 M272.4,1185.5 V1171.5 M589.7,1185.5 V1171.5 M907.0,1185.5 V1171.5 M1224.4,1185.5 V1171.5 M1541.7,1185.5 V1171.5 M1859.0,1185.5 V1171.5 M2176.3,1185.5 V1171.5" stroke="#000" stroke-width="3.6" fill="none"/>
<g font-family="'Liberation Serif', serif" font-weight="bold" font-size="58.33px" fill="#000" style="font-kerning:none">
<text x="112.7" y="1261.3" text-anchor="middle">4000</text>
<text x="430.0" y="1261.3" text-anchor="middle">3500</text>
<text x="747.4" y="1261.3" text-anchor="middle">3000</text>
<text x="1064.7" y="1261.3" text-anchor="middle">2500</text>
<text x="1382.0" y="1261.3" text-anchor="middle">2000</text>
<text x="1699.3" y="1261.3" text-anchor="middle">1500</text>
<text x="2016.7" y="1261.3" text-anchor="middle">1000</text>
<text x="1192.5" y="1318.3" text-anchor="middle">Wavenumber <tspan dy="3.5">[</tspan><tspan dy="-3.5">cm</tspan><tspan font-size="38.5px" dy="-24.2">-1</tspan><tspan dy="27.7">]</tspan></text>
<text transform="translate(77,612.4) rotate(-90)" text-anchor="middle" letter-spacing="0.17">Transmittance <tspan dy="3.5">[</tspan><tspan dy="-3.5">%</tspan><tspan dy="3.5">][</tspan><tspan dy="-3.5">a.u.</tspan><tspan dy="3.5">]</tspan></text>
<text x="608.7" y="176.5">-<tspan dx="2.5">CH</tspan><tspan font-size="39px" dy="15.6">2</tspan><tspan dy="-15.6">- </tspan><tspan dx="0.8">&amp; -</tspan><tspan dx="1.6">CH</tspan><tspan dx="-0.8" font-size="39px" dy="15.6">3</tspan></text>
<text x="640" y="239.8">(2840 - <tspan dx="1.5">2970)</tspan></text>
<text x="1564.5" y="152.3">-<tspan dx="2.5">CH</tspan><tspan font-size="39px" dy="15.6">2</tspan><tspan dy="-15.6">- </tspan><tspan dx="0.8">&amp; -</tspan><tspan dx="1.6">CH</tspan><tspan dx="-0.8" font-size="39px" dy="15.6">3</tspan></text>
<text x="1598.5" y="215.7">(1380,1460)</text>
<text x="2069.5" y="116.4">(CH<tspan font-size="39px" dy="15.6">2</tspan><tspan dy="-15.6">)n</tspan></text>
<text x="2087" y="178.9">(720)</text>
<text x="1378" y="996.5">C=O</text>
<text x="1360" y="1050.7">(1580)</text>
</g>
<g font-family="'Liberation Serif', serif" font-weight="bold" font-size="51.6px" fill="#000" style="font-kerning:none">
<text x="1053.4" y="297.0">LCG+2wt%FLG</text>
<text x="1048.8" y="467.3">LCG+1wt%FLG</text>
<text x="1043.2" y="625">LCG+0.5wt%FLG</text>
<text x="1173.1" y="805">LCG</text>
</g>
<g fill="none" stroke="#000" stroke-width="7.3" stroke-dasharray="42.7 31.3">
<path d="M701.9,296.6 H895.4"/>
<path d="M891.7,328.5 V600"/>
<path d="M879.2,612.5 H702"/>
<path d="M705.6,293 V616.1"/>
<path d="M1785.07,373.00 A59.4,48.6 0 1 1 1668.33,355.00 A59.4,48.6 0 1 1 1785.07,373.00"/>
<path d="M2239.28,346.50 A53.0,41.0 0 1 0 2133.92,337.50 A53.0,41.0 0 1 0 2239.28,346.50"/>
<path d="M1696.93,966.00 A45.0,36.0 0 1 1 1607.07,962.00 A45.0,36.0 0 1 1 1696.93,966.00"/>
</g>
<path d="M1733.2,323.5 L1738.0,284.1" stroke="#000" stroke-width="7.2" fill="none"/><path d="M1744.0,234.5 L1752.6,287.9 L1722.8,284.3 Z" fill="#000"/>
<path d="M2186.5,293.5 L2168.0,231.4" stroke="#000" stroke-width="7.2" fill="none"/><path d="M2153.7,183.5 L2182.9,229.0 L2154.2,237.6 Z" fill="#000"/>
<path d="M1614.5,981.5 L1567.8,1002.7" stroke="#000" stroke-width="7.2" fill="none"/><path d="M1522.3,1023.4 L1563.4,988.2 L1575.8,1015.5 Z" fill="#000"/>
</svg>
</body></html>
